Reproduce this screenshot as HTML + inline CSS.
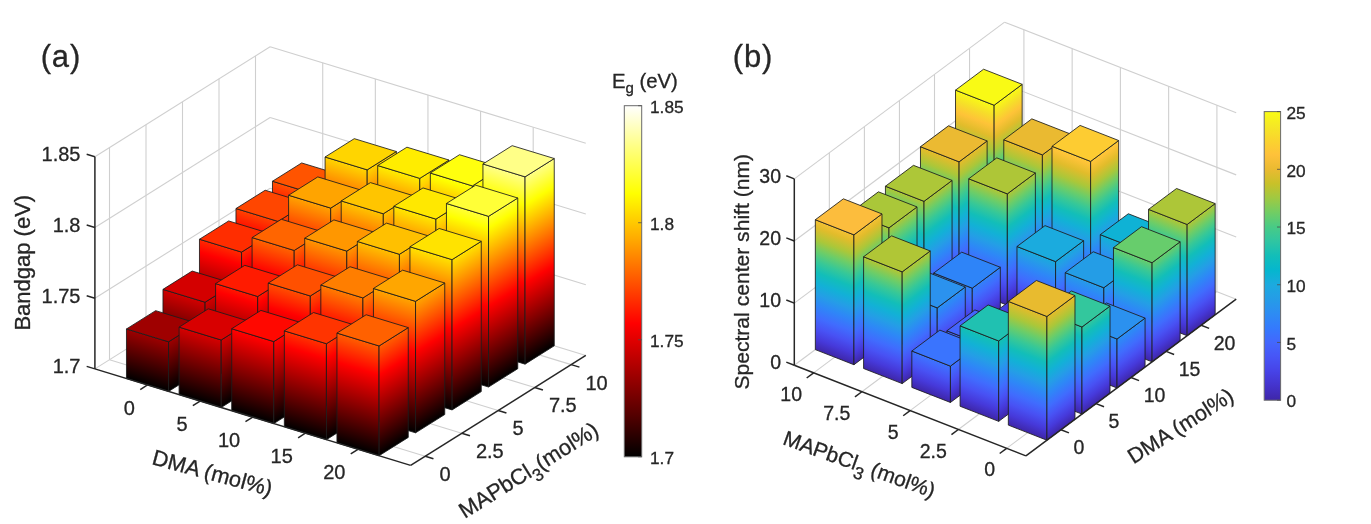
<!DOCTYPE html>
<html><head><meta charset="utf-8"><title>Figure</title>
<style>
html,body{margin:0;padding:0;background:#fff;}
svg{display:block;}
text{font-family:"Liberation Sans",Arial,sans-serif;fill:#262626;stroke:#262626;stroke-width:0.3;}
.g{stroke:#cfcfcf;stroke-width:1.1;fill:none;}
.a{stroke:#262626;stroke-width:1.5;fill:none;stroke-linecap:butt;}
.b{stroke:#1c1c1c;stroke-width:0.85;stroke-linejoin:round;}
.ct{stroke:#4d4d4d;stroke-width:0.8;}
</style></head><body>
<svg width="1371" height="524" viewBox="0 0 1371 524">
<rect width="1371" height="524" fill="#fff"/>
<defs>
<linearGradient id="af15" gradientUnits="userSpaceOnUse" x1="272.47" y1="286.95" x2="331.78" y2="92.87"><stop offset="0" stop-color="#000000"/><stop offset="0.38" stop-color="#ff0000"/><stop offset="0.75" stop-color="#ffff00"/><stop offset="1" stop-color="#ffffff"/></linearGradient>
<linearGradient id="ar15" gradientUnits="userSpaceOnUse" x1="314.57" y1="299.81" x2="219.04" y2="147.55"><stop offset="0" stop-color="#000000"/><stop offset="0.38" stop-color="#ff0000"/><stop offset="0.75" stop-color="#ffff00"/><stop offset="1" stop-color="#ffffff"/></linearGradient>
<linearGradient id="af25" gradientUnits="userSpaceOnUse" x1="325.09" y1="303.03" x2="384.4" y2="108.95"><stop offset="0" stop-color="#000000"/><stop offset="0.38" stop-color="#ff0000"/><stop offset="0.75" stop-color="#ffff00"/><stop offset="1" stop-color="#ffffff"/></linearGradient>
<linearGradient id="ar25" gradientUnits="userSpaceOnUse" x1="367.19" y1="315.89" x2="271.66" y2="163.63"><stop offset="0" stop-color="#000000"/><stop offset="0.38" stop-color="#ff0000"/><stop offset="0.75" stop-color="#ffff00"/><stop offset="1" stop-color="#ffffff"/></linearGradient>
<linearGradient id="af35" gradientUnits="userSpaceOnUse" x1="377.71" y1="319.11" x2="437.02" y2="125.03"><stop offset="0" stop-color="#000000"/><stop offset="0.38" stop-color="#ff0000"/><stop offset="0.75" stop-color="#ffff00"/><stop offset="1" stop-color="#ffffff"/></linearGradient>
<linearGradient id="ar35" gradientUnits="userSpaceOnUse" x1="419.81" y1="331.97" x2="324.28" y2="179.71"><stop offset="0" stop-color="#000000"/><stop offset="0.38" stop-color="#ff0000"/><stop offset="0.75" stop-color="#ffff00"/><stop offset="1" stop-color="#ffffff"/></linearGradient>
<linearGradient id="af45" gradientUnits="userSpaceOnUse" x1="430.33" y1="335.19" x2="489.64" y2="141.11"><stop offset="0" stop-color="#000000"/><stop offset="0.38" stop-color="#ff0000"/><stop offset="0.75" stop-color="#ffff00"/><stop offset="1" stop-color="#ffffff"/></linearGradient>
<linearGradient id="ar45" gradientUnits="userSpaceOnUse" x1="472.43" y1="348.05" x2="376.9" y2="195.79"><stop offset="0" stop-color="#000000"/><stop offset="0.38" stop-color="#ff0000"/><stop offset="0.75" stop-color="#ffff00"/><stop offset="1" stop-color="#ffffff"/></linearGradient>
<linearGradient id="af55" gradientUnits="userSpaceOnUse" x1="482.95" y1="351.27" x2="542.26" y2="157.19"><stop offset="0" stop-color="#000000"/><stop offset="0.38" stop-color="#ff0000"/><stop offset="0.75" stop-color="#ffff00"/><stop offset="1" stop-color="#ffffff"/></linearGradient>
<linearGradient id="ar55" gradientUnits="userSpaceOnUse" x1="525.05" y1="364.13" x2="429.52" y2="211.87"><stop offset="0" stop-color="#000000"/><stop offset="0.38" stop-color="#ff0000"/><stop offset="0.75" stop-color="#ffff00"/><stop offset="1" stop-color="#ffffff"/></linearGradient>
<linearGradient id="af14" gradientUnits="userSpaceOnUse" x1="235.97" y1="309.85" x2="295.28" y2="115.77"><stop offset="0" stop-color="#000000"/><stop offset="0.38" stop-color="#ff0000"/><stop offset="0.75" stop-color="#ffff00"/><stop offset="1" stop-color="#ffffff"/></linearGradient>
<linearGradient id="ar14" gradientUnits="userSpaceOnUse" x1="278.07" y1="322.71" x2="182.54" y2="170.45"><stop offset="0" stop-color="#000000"/><stop offset="0.38" stop-color="#ff0000"/><stop offset="0.75" stop-color="#ffff00"/><stop offset="1" stop-color="#ffffff"/></linearGradient>
<linearGradient id="af24" gradientUnits="userSpaceOnUse" x1="288.59" y1="325.93" x2="347.9" y2="131.85"><stop offset="0" stop-color="#000000"/><stop offset="0.38" stop-color="#ff0000"/><stop offset="0.75" stop-color="#ffff00"/><stop offset="1" stop-color="#ffffff"/></linearGradient>
<linearGradient id="ar24" gradientUnits="userSpaceOnUse" x1="330.69" y1="338.79" x2="235.16" y2="186.53"><stop offset="0" stop-color="#000000"/><stop offset="0.38" stop-color="#ff0000"/><stop offset="0.75" stop-color="#ffff00"/><stop offset="1" stop-color="#ffffff"/></linearGradient>
<linearGradient id="af34" gradientUnits="userSpaceOnUse" x1="341.21" y1="342.01" x2="400.52" y2="147.93"><stop offset="0" stop-color="#000000"/><stop offset="0.38" stop-color="#ff0000"/><stop offset="0.75" stop-color="#ffff00"/><stop offset="1" stop-color="#ffffff"/></linearGradient>
<linearGradient id="ar34" gradientUnits="userSpaceOnUse" x1="383.31" y1="354.87" x2="287.78" y2="202.61"><stop offset="0" stop-color="#000000"/><stop offset="0.38" stop-color="#ff0000"/><stop offset="0.75" stop-color="#ffff00"/><stop offset="1" stop-color="#ffffff"/></linearGradient>
<linearGradient id="af44" gradientUnits="userSpaceOnUse" x1="393.83" y1="358.09" x2="453.14" y2="164.01"><stop offset="0" stop-color="#000000"/><stop offset="0.38" stop-color="#ff0000"/><stop offset="0.75" stop-color="#ffff00"/><stop offset="1" stop-color="#ffffff"/></linearGradient>
<linearGradient id="ar44" gradientUnits="userSpaceOnUse" x1="435.93" y1="370.95" x2="340.4" y2="218.69"><stop offset="0" stop-color="#000000"/><stop offset="0.38" stop-color="#ff0000"/><stop offset="0.75" stop-color="#ffff00"/><stop offset="1" stop-color="#ffffff"/></linearGradient>
<linearGradient id="af54" gradientUnits="userSpaceOnUse" x1="446.45" y1="374.17" x2="505.76" y2="180.09"><stop offset="0" stop-color="#000000"/><stop offset="0.38" stop-color="#ff0000"/><stop offset="0.75" stop-color="#ffff00"/><stop offset="1" stop-color="#ffffff"/></linearGradient>
<linearGradient id="ar54" gradientUnits="userSpaceOnUse" x1="488.55" y1="387.03" x2="393.02" y2="234.77"><stop offset="0" stop-color="#000000"/><stop offset="0.38" stop-color="#ff0000"/><stop offset="0.75" stop-color="#ffff00"/><stop offset="1" stop-color="#ffffff"/></linearGradient>
<linearGradient id="af13" gradientUnits="userSpaceOnUse" x1="199.47" y1="332.75" x2="258.78" y2="138.67"><stop offset="0" stop-color="#000000"/><stop offset="0.38" stop-color="#ff0000"/><stop offset="0.75" stop-color="#ffff00"/><stop offset="1" stop-color="#ffffff"/></linearGradient>
<linearGradient id="ar13" gradientUnits="userSpaceOnUse" x1="241.57" y1="345.61" x2="146.04" y2="193.35"><stop offset="0" stop-color="#000000"/><stop offset="0.38" stop-color="#ff0000"/><stop offset="0.75" stop-color="#ffff00"/><stop offset="1" stop-color="#ffffff"/></linearGradient>
<linearGradient id="af23" gradientUnits="userSpaceOnUse" x1="252.09" y1="348.83" x2="311.4" y2="154.75"><stop offset="0" stop-color="#000000"/><stop offset="0.38" stop-color="#ff0000"/><stop offset="0.75" stop-color="#ffff00"/><stop offset="1" stop-color="#ffffff"/></linearGradient>
<linearGradient id="ar23" gradientUnits="userSpaceOnUse" x1="294.19" y1="361.69" x2="198.66" y2="209.43"><stop offset="0" stop-color="#000000"/><stop offset="0.38" stop-color="#ff0000"/><stop offset="0.75" stop-color="#ffff00"/><stop offset="1" stop-color="#ffffff"/></linearGradient>
<linearGradient id="af33" gradientUnits="userSpaceOnUse" x1="304.71" y1="364.91" x2="364.02" y2="170.83"><stop offset="0" stop-color="#000000"/><stop offset="0.38" stop-color="#ff0000"/><stop offset="0.75" stop-color="#ffff00"/><stop offset="1" stop-color="#ffffff"/></linearGradient>
<linearGradient id="ar33" gradientUnits="userSpaceOnUse" x1="346.81" y1="377.77" x2="251.28" y2="225.51"><stop offset="0" stop-color="#000000"/><stop offset="0.38" stop-color="#ff0000"/><stop offset="0.75" stop-color="#ffff00"/><stop offset="1" stop-color="#ffffff"/></linearGradient>
<linearGradient id="af43" gradientUnits="userSpaceOnUse" x1="357.33" y1="380.99" x2="416.64" y2="186.91"><stop offset="0" stop-color="#000000"/><stop offset="0.38" stop-color="#ff0000"/><stop offset="0.75" stop-color="#ffff00"/><stop offset="1" stop-color="#ffffff"/></linearGradient>
<linearGradient id="ar43" gradientUnits="userSpaceOnUse" x1="399.43" y1="393.85" x2="303.9" y2="241.59"><stop offset="0" stop-color="#000000"/><stop offset="0.38" stop-color="#ff0000"/><stop offset="0.75" stop-color="#ffff00"/><stop offset="1" stop-color="#ffffff"/></linearGradient>
<linearGradient id="af53" gradientUnits="userSpaceOnUse" x1="409.95" y1="397.07" x2="469.26" y2="202.99"><stop offset="0" stop-color="#000000"/><stop offset="0.38" stop-color="#ff0000"/><stop offset="0.75" stop-color="#ffff00"/><stop offset="1" stop-color="#ffffff"/></linearGradient>
<linearGradient id="ar53" gradientUnits="userSpaceOnUse" x1="452.05" y1="409.93" x2="356.52" y2="257.67"><stop offset="0" stop-color="#000000"/><stop offset="0.38" stop-color="#ff0000"/><stop offset="0.75" stop-color="#ffff00"/><stop offset="1" stop-color="#ffffff"/></linearGradient>
<linearGradient id="af12" gradientUnits="userSpaceOnUse" x1="162.97" y1="355.65" x2="222.28" y2="161.57"><stop offset="0" stop-color="#000000"/><stop offset="0.38" stop-color="#ff0000"/><stop offset="0.75" stop-color="#ffff00"/><stop offset="1" stop-color="#ffffff"/></linearGradient>
<linearGradient id="ar12" gradientUnits="userSpaceOnUse" x1="205.07" y1="368.51" x2="109.54" y2="216.25"><stop offset="0" stop-color="#000000"/><stop offset="0.38" stop-color="#ff0000"/><stop offset="0.75" stop-color="#ffff00"/><stop offset="1" stop-color="#ffffff"/></linearGradient>
<linearGradient id="af22" gradientUnits="userSpaceOnUse" x1="215.59" y1="371.73" x2="274.9" y2="177.65"><stop offset="0" stop-color="#000000"/><stop offset="0.38" stop-color="#ff0000"/><stop offset="0.75" stop-color="#ffff00"/><stop offset="1" stop-color="#ffffff"/></linearGradient>
<linearGradient id="ar22" gradientUnits="userSpaceOnUse" x1="257.69" y1="384.59" x2="162.16" y2="232.33"><stop offset="0" stop-color="#000000"/><stop offset="0.38" stop-color="#ff0000"/><stop offset="0.75" stop-color="#ffff00"/><stop offset="1" stop-color="#ffffff"/></linearGradient>
<linearGradient id="af32" gradientUnits="userSpaceOnUse" x1="268.21" y1="387.81" x2="327.52" y2="193.73"><stop offset="0" stop-color="#000000"/><stop offset="0.38" stop-color="#ff0000"/><stop offset="0.75" stop-color="#ffff00"/><stop offset="1" stop-color="#ffffff"/></linearGradient>
<linearGradient id="ar32" gradientUnits="userSpaceOnUse" x1="310.31" y1="400.67" x2="214.78" y2="248.41"><stop offset="0" stop-color="#000000"/><stop offset="0.38" stop-color="#ff0000"/><stop offset="0.75" stop-color="#ffff00"/><stop offset="1" stop-color="#ffffff"/></linearGradient>
<linearGradient id="af42" gradientUnits="userSpaceOnUse" x1="320.83" y1="403.89" x2="380.14" y2="209.81"><stop offset="0" stop-color="#000000"/><stop offset="0.38" stop-color="#ff0000"/><stop offset="0.75" stop-color="#ffff00"/><stop offset="1" stop-color="#ffffff"/></linearGradient>
<linearGradient id="ar42" gradientUnits="userSpaceOnUse" x1="362.93" y1="416.75" x2="267.4" y2="264.49"><stop offset="0" stop-color="#000000"/><stop offset="0.38" stop-color="#ff0000"/><stop offset="0.75" stop-color="#ffff00"/><stop offset="1" stop-color="#ffffff"/></linearGradient>
<linearGradient id="af52" gradientUnits="userSpaceOnUse" x1="373.45" y1="419.97" x2="432.76" y2="225.89"><stop offset="0" stop-color="#000000"/><stop offset="0.38" stop-color="#ff0000"/><stop offset="0.75" stop-color="#ffff00"/><stop offset="1" stop-color="#ffffff"/></linearGradient>
<linearGradient id="ar52" gradientUnits="userSpaceOnUse" x1="415.55" y1="432.83" x2="320.02" y2="280.57"><stop offset="0" stop-color="#000000"/><stop offset="0.38" stop-color="#ff0000"/><stop offset="0.75" stop-color="#ffff00"/><stop offset="1" stop-color="#ffffff"/></linearGradient>
<linearGradient id="af11" gradientUnits="userSpaceOnUse" x1="126.47" y1="378.55" x2="185.78" y2="184.47"><stop offset="0" stop-color="#000000"/><stop offset="0.38" stop-color="#ff0000"/><stop offset="0.75" stop-color="#ffff00"/><stop offset="1" stop-color="#ffffff"/></linearGradient>
<linearGradient id="ar11" gradientUnits="userSpaceOnUse" x1="168.57" y1="391.41" x2="73.04" y2="239.15"><stop offset="0" stop-color="#000000"/><stop offset="0.38" stop-color="#ff0000"/><stop offset="0.75" stop-color="#ffff00"/><stop offset="1" stop-color="#ffffff"/></linearGradient>
<linearGradient id="af21" gradientUnits="userSpaceOnUse" x1="179.09" y1="394.63" x2="238.4" y2="200.55"><stop offset="0" stop-color="#000000"/><stop offset="0.38" stop-color="#ff0000"/><stop offset="0.75" stop-color="#ffff00"/><stop offset="1" stop-color="#ffffff"/></linearGradient>
<linearGradient id="ar21" gradientUnits="userSpaceOnUse" x1="221.19" y1="407.49" x2="125.66" y2="255.23"><stop offset="0" stop-color="#000000"/><stop offset="0.38" stop-color="#ff0000"/><stop offset="0.75" stop-color="#ffff00"/><stop offset="1" stop-color="#ffffff"/></linearGradient>
<linearGradient id="af31" gradientUnits="userSpaceOnUse" x1="231.71" y1="410.71" x2="291.02" y2="216.63"><stop offset="0" stop-color="#000000"/><stop offset="0.38" stop-color="#ff0000"/><stop offset="0.75" stop-color="#ffff00"/><stop offset="1" stop-color="#ffffff"/></linearGradient>
<linearGradient id="ar31" gradientUnits="userSpaceOnUse" x1="273.81" y1="423.57" x2="178.28" y2="271.31"><stop offset="0" stop-color="#000000"/><stop offset="0.38" stop-color="#ff0000"/><stop offset="0.75" stop-color="#ffff00"/><stop offset="1" stop-color="#ffffff"/></linearGradient>
<linearGradient id="af41" gradientUnits="userSpaceOnUse" x1="284.33" y1="426.79" x2="343.64" y2="232.71"><stop offset="0" stop-color="#000000"/><stop offset="0.38" stop-color="#ff0000"/><stop offset="0.75" stop-color="#ffff00"/><stop offset="1" stop-color="#ffffff"/></linearGradient>
<linearGradient id="ar41" gradientUnits="userSpaceOnUse" x1="326.43" y1="439.65" x2="230.9" y2="287.39"><stop offset="0" stop-color="#000000"/><stop offset="0.38" stop-color="#ff0000"/><stop offset="0.75" stop-color="#ffff00"/><stop offset="1" stop-color="#ffffff"/></linearGradient>
<linearGradient id="af51" gradientUnits="userSpaceOnUse" x1="336.95" y1="442.87" x2="396.26" y2="248.79"><stop offset="0" stop-color="#000000"/><stop offset="0.38" stop-color="#ff0000"/><stop offset="0.75" stop-color="#ffff00"/><stop offset="1" stop-color="#ffffff"/></linearGradient>
<linearGradient id="ar51" gradientUnits="userSpaceOnUse" x1="379.05" y1="455.73" x2="283.52" y2="303.47"><stop offset="0" stop-color="#000000"/><stop offset="0.38" stop-color="#ff0000"/><stop offset="0.75" stop-color="#ffff00"/><stop offset="1" stop-color="#ffffff"/></linearGradient>
<linearGradient id="bf15" gradientUnits="userSpaceOnUse" x1="955.53" y1="245.12" x2="1008.22" y2="110.44"><stop offset="0" stop-color="#3e26a8"/><stop offset="0.07" stop-color="#4639da"/><stop offset="0.14" stop-color="#4852f4"/><stop offset="0.21" stop-color="#406cfe"/><stop offset="0.29" stop-color="#2e87f7"/><stop offset="0.36" stop-color="#249ee6"/><stop offset="0.43" stop-color="#12b1d6"/><stop offset="0.5" stop-color="#12beb9"/><stop offset="0.57" stop-color="#37c897"/><stop offset="0.64" stop-color="#6bcd69"/><stop offset="0.71" stop-color="#abc739"/><stop offset="0.79" stop-color="#e1bc2b"/><stop offset="0.86" stop-color="#fec338"/><stop offset="0.93" stop-color="#f6df29"/><stop offset="1" stop-color="#f9fb15"/></linearGradient>
<linearGradient id="br15" gradientUnits="userSpaceOnUse" x1="994.13" y1="260.23" x2="919.72" y2="160.39"><stop offset="0" stop-color="#3e26a8"/><stop offset="0.07" stop-color="#4639da"/><stop offset="0.14" stop-color="#4852f4"/><stop offset="0.21" stop-color="#406cfe"/><stop offset="0.29" stop-color="#2e87f7"/><stop offset="0.36" stop-color="#249ee6"/><stop offset="0.43" stop-color="#12b1d6"/><stop offset="0.5" stop-color="#12beb9"/><stop offset="0.57" stop-color="#37c897"/><stop offset="0.64" stop-color="#6bcd69"/><stop offset="0.71" stop-color="#abc739"/><stop offset="0.79" stop-color="#e1bc2b"/><stop offset="0.86" stop-color="#fec338"/><stop offset="0.93" stop-color="#f6df29"/><stop offset="1" stop-color="#f9fb15"/></linearGradient>
<linearGradient id="bf25" gradientUnits="userSpaceOnUse" x1="1003.78" y1="264" x2="1056.47" y2="129.31"><stop offset="0" stop-color="#3e26a8"/><stop offset="0.07" stop-color="#4639da"/><stop offset="0.14" stop-color="#4852f4"/><stop offset="0.21" stop-color="#406cfe"/><stop offset="0.29" stop-color="#2e87f7"/><stop offset="0.36" stop-color="#249ee6"/><stop offset="0.43" stop-color="#12b1d6"/><stop offset="0.5" stop-color="#12beb9"/><stop offset="0.57" stop-color="#37c897"/><stop offset="0.64" stop-color="#6bcd69"/><stop offset="0.71" stop-color="#abc739"/><stop offset="0.79" stop-color="#e1bc2b"/><stop offset="0.86" stop-color="#fec338"/><stop offset="0.93" stop-color="#f6df29"/><stop offset="1" stop-color="#f9fb15"/></linearGradient>
<linearGradient id="br25" gradientUnits="userSpaceOnUse" x1="1042.38" y1="279.1" x2="967.97" y2="179.27"><stop offset="0" stop-color="#3e26a8"/><stop offset="0.07" stop-color="#4639da"/><stop offset="0.14" stop-color="#4852f4"/><stop offset="0.21" stop-color="#406cfe"/><stop offset="0.29" stop-color="#2e87f7"/><stop offset="0.36" stop-color="#249ee6"/><stop offset="0.43" stop-color="#12b1d6"/><stop offset="0.5" stop-color="#12beb9"/><stop offset="0.57" stop-color="#37c897"/><stop offset="0.64" stop-color="#6bcd69"/><stop offset="0.71" stop-color="#abc739"/><stop offset="0.79" stop-color="#e1bc2b"/><stop offset="0.86" stop-color="#fec338"/><stop offset="0.93" stop-color="#f6df29"/><stop offset="1" stop-color="#f9fb15"/></linearGradient>
<linearGradient id="bf35" gradientUnits="userSpaceOnUse" x1="1052.03" y1="282.88" x2="1104.72" y2="148.19"><stop offset="0" stop-color="#3e26a8"/><stop offset="0.07" stop-color="#4639da"/><stop offset="0.14" stop-color="#4852f4"/><stop offset="0.21" stop-color="#406cfe"/><stop offset="0.29" stop-color="#2e87f7"/><stop offset="0.36" stop-color="#249ee6"/><stop offset="0.43" stop-color="#12b1d6"/><stop offset="0.5" stop-color="#12beb9"/><stop offset="0.57" stop-color="#37c897"/><stop offset="0.64" stop-color="#6bcd69"/><stop offset="0.71" stop-color="#abc739"/><stop offset="0.79" stop-color="#e1bc2b"/><stop offset="0.86" stop-color="#fec338"/><stop offset="0.93" stop-color="#f6df29"/><stop offset="1" stop-color="#f9fb15"/></linearGradient>
<linearGradient id="br35" gradientUnits="userSpaceOnUse" x1="1090.63" y1="297.97" x2="1016.22" y2="198.14"><stop offset="0" stop-color="#3e26a8"/><stop offset="0.07" stop-color="#4639da"/><stop offset="0.14" stop-color="#4852f4"/><stop offset="0.21" stop-color="#406cfe"/><stop offset="0.29" stop-color="#2e87f7"/><stop offset="0.36" stop-color="#249ee6"/><stop offset="0.43" stop-color="#12b1d6"/><stop offset="0.5" stop-color="#12beb9"/><stop offset="0.57" stop-color="#37c897"/><stop offset="0.64" stop-color="#6bcd69"/><stop offset="0.71" stop-color="#abc739"/><stop offset="0.79" stop-color="#e1bc2b"/><stop offset="0.86" stop-color="#fec338"/><stop offset="0.93" stop-color="#f6df29"/><stop offset="1" stop-color="#f9fb15"/></linearGradient>
<linearGradient id="bf45" gradientUnits="userSpaceOnUse" x1="1100.28" y1="301.75" x2="1152.97" y2="167.06"><stop offset="0" stop-color="#3e26a8"/><stop offset="0.07" stop-color="#4639da"/><stop offset="0.14" stop-color="#4852f4"/><stop offset="0.21" stop-color="#406cfe"/><stop offset="0.29" stop-color="#2e87f7"/><stop offset="0.36" stop-color="#249ee6"/><stop offset="0.43" stop-color="#12b1d6"/><stop offset="0.5" stop-color="#12beb9"/><stop offset="0.57" stop-color="#37c897"/><stop offset="0.64" stop-color="#6bcd69"/><stop offset="0.71" stop-color="#abc739"/><stop offset="0.79" stop-color="#e1bc2b"/><stop offset="0.86" stop-color="#fec338"/><stop offset="0.93" stop-color="#f6df29"/><stop offset="1" stop-color="#f9fb15"/></linearGradient>
<linearGradient id="br45" gradientUnits="userSpaceOnUse" x1="1138.88" y1="316.85" x2="1064.47" y2="217.02"><stop offset="0" stop-color="#3e26a8"/><stop offset="0.07" stop-color="#4639da"/><stop offset="0.14" stop-color="#4852f4"/><stop offset="0.21" stop-color="#406cfe"/><stop offset="0.29" stop-color="#2e87f7"/><stop offset="0.36" stop-color="#249ee6"/><stop offset="0.43" stop-color="#12b1d6"/><stop offset="0.5" stop-color="#12beb9"/><stop offset="0.57" stop-color="#37c897"/><stop offset="0.64" stop-color="#6bcd69"/><stop offset="0.71" stop-color="#abc739"/><stop offset="0.79" stop-color="#e1bc2b"/><stop offset="0.86" stop-color="#fec338"/><stop offset="0.93" stop-color="#f6df29"/><stop offset="1" stop-color="#f9fb15"/></linearGradient>
<linearGradient id="bf55" gradientUnits="userSpaceOnUse" x1="1148.53" y1="320.62" x2="1201.22" y2="185.94"><stop offset="0" stop-color="#3e26a8"/><stop offset="0.07" stop-color="#4639da"/><stop offset="0.14" stop-color="#4852f4"/><stop offset="0.21" stop-color="#406cfe"/><stop offset="0.29" stop-color="#2e87f7"/><stop offset="0.36" stop-color="#249ee6"/><stop offset="0.43" stop-color="#12b1d6"/><stop offset="0.5" stop-color="#12beb9"/><stop offset="0.57" stop-color="#37c897"/><stop offset="0.64" stop-color="#6bcd69"/><stop offset="0.71" stop-color="#abc739"/><stop offset="0.79" stop-color="#e1bc2b"/><stop offset="0.86" stop-color="#fec338"/><stop offset="0.93" stop-color="#f6df29"/><stop offset="1" stop-color="#f9fb15"/></linearGradient>
<linearGradient id="br55" gradientUnits="userSpaceOnUse" x1="1187.13" y1="335.73" x2="1112.72" y2="235.89"><stop offset="0" stop-color="#3e26a8"/><stop offset="0.07" stop-color="#4639da"/><stop offset="0.14" stop-color="#4852f4"/><stop offset="0.21" stop-color="#406cfe"/><stop offset="0.29" stop-color="#2e87f7"/><stop offset="0.36" stop-color="#249ee6"/><stop offset="0.43" stop-color="#12b1d6"/><stop offset="0.5" stop-color="#12beb9"/><stop offset="0.57" stop-color="#37c897"/><stop offset="0.64" stop-color="#6bcd69"/><stop offset="0.71" stop-color="#abc739"/><stop offset="0.79" stop-color="#e1bc2b"/><stop offset="0.86" stop-color="#fec338"/><stop offset="0.93" stop-color="#f6df29"/><stop offset="1" stop-color="#f9fb15"/></linearGradient>
<linearGradient id="bf14" gradientUnits="userSpaceOnUse" x1="920.48" y1="271.25" x2="973.17" y2="136.56"><stop offset="0" stop-color="#3e26a8"/><stop offset="0.07" stop-color="#4639da"/><stop offset="0.14" stop-color="#4852f4"/><stop offset="0.21" stop-color="#406cfe"/><stop offset="0.29" stop-color="#2e87f7"/><stop offset="0.36" stop-color="#249ee6"/><stop offset="0.43" stop-color="#12b1d6"/><stop offset="0.5" stop-color="#12beb9"/><stop offset="0.57" stop-color="#37c897"/><stop offset="0.64" stop-color="#6bcd69"/><stop offset="0.71" stop-color="#abc739"/><stop offset="0.79" stop-color="#e1bc2b"/><stop offset="0.86" stop-color="#fec338"/><stop offset="0.93" stop-color="#f6df29"/><stop offset="1" stop-color="#f9fb15"/></linearGradient>
<linearGradient id="br14" gradientUnits="userSpaceOnUse" x1="959.08" y1="286.35" x2="884.67" y2="186.52"><stop offset="0" stop-color="#3e26a8"/><stop offset="0.07" stop-color="#4639da"/><stop offset="0.14" stop-color="#4852f4"/><stop offset="0.21" stop-color="#406cfe"/><stop offset="0.29" stop-color="#2e87f7"/><stop offset="0.36" stop-color="#249ee6"/><stop offset="0.43" stop-color="#12b1d6"/><stop offset="0.5" stop-color="#12beb9"/><stop offset="0.57" stop-color="#37c897"/><stop offset="0.64" stop-color="#6bcd69"/><stop offset="0.71" stop-color="#abc739"/><stop offset="0.79" stop-color="#e1bc2b"/><stop offset="0.86" stop-color="#fec338"/><stop offset="0.93" stop-color="#f6df29"/><stop offset="1" stop-color="#f9fb15"/></linearGradient>
<linearGradient id="bf24" gradientUnits="userSpaceOnUse" x1="968.73" y1="290.12" x2="1021.42" y2="155.44"><stop offset="0" stop-color="#3e26a8"/><stop offset="0.07" stop-color="#4639da"/><stop offset="0.14" stop-color="#4852f4"/><stop offset="0.21" stop-color="#406cfe"/><stop offset="0.29" stop-color="#2e87f7"/><stop offset="0.36" stop-color="#249ee6"/><stop offset="0.43" stop-color="#12b1d6"/><stop offset="0.5" stop-color="#12beb9"/><stop offset="0.57" stop-color="#37c897"/><stop offset="0.64" stop-color="#6bcd69"/><stop offset="0.71" stop-color="#abc739"/><stop offset="0.79" stop-color="#e1bc2b"/><stop offset="0.86" stop-color="#fec338"/><stop offset="0.93" stop-color="#f6df29"/><stop offset="1" stop-color="#f9fb15"/></linearGradient>
<linearGradient id="br24" gradientUnits="userSpaceOnUse" x1="1007.33" y1="305.22" x2="932.92" y2="205.39"><stop offset="0" stop-color="#3e26a8"/><stop offset="0.07" stop-color="#4639da"/><stop offset="0.14" stop-color="#4852f4"/><stop offset="0.21" stop-color="#406cfe"/><stop offset="0.29" stop-color="#2e87f7"/><stop offset="0.36" stop-color="#249ee6"/><stop offset="0.43" stop-color="#12b1d6"/><stop offset="0.5" stop-color="#12beb9"/><stop offset="0.57" stop-color="#37c897"/><stop offset="0.64" stop-color="#6bcd69"/><stop offset="0.71" stop-color="#abc739"/><stop offset="0.79" stop-color="#e1bc2b"/><stop offset="0.86" stop-color="#fec338"/><stop offset="0.93" stop-color="#f6df29"/><stop offset="1" stop-color="#f9fb15"/></linearGradient>
<linearGradient id="bf34" gradientUnits="userSpaceOnUse" x1="1016.98" y1="309" x2="1069.67" y2="174.31"><stop offset="0" stop-color="#3e26a8"/><stop offset="0.07" stop-color="#4639da"/><stop offset="0.14" stop-color="#4852f4"/><stop offset="0.21" stop-color="#406cfe"/><stop offset="0.29" stop-color="#2e87f7"/><stop offset="0.36" stop-color="#249ee6"/><stop offset="0.43" stop-color="#12b1d6"/><stop offset="0.5" stop-color="#12beb9"/><stop offset="0.57" stop-color="#37c897"/><stop offset="0.64" stop-color="#6bcd69"/><stop offset="0.71" stop-color="#abc739"/><stop offset="0.79" stop-color="#e1bc2b"/><stop offset="0.86" stop-color="#fec338"/><stop offset="0.93" stop-color="#f6df29"/><stop offset="1" stop-color="#f9fb15"/></linearGradient>
<linearGradient id="br34" gradientUnits="userSpaceOnUse" x1="1055.58" y1="324.1" x2="981.17" y2="224.27"><stop offset="0" stop-color="#3e26a8"/><stop offset="0.07" stop-color="#4639da"/><stop offset="0.14" stop-color="#4852f4"/><stop offset="0.21" stop-color="#406cfe"/><stop offset="0.29" stop-color="#2e87f7"/><stop offset="0.36" stop-color="#249ee6"/><stop offset="0.43" stop-color="#12b1d6"/><stop offset="0.5" stop-color="#12beb9"/><stop offset="0.57" stop-color="#37c897"/><stop offset="0.64" stop-color="#6bcd69"/><stop offset="0.71" stop-color="#abc739"/><stop offset="0.79" stop-color="#e1bc2b"/><stop offset="0.86" stop-color="#fec338"/><stop offset="0.93" stop-color="#f6df29"/><stop offset="1" stop-color="#f9fb15"/></linearGradient>
<linearGradient id="bf44" gradientUnits="userSpaceOnUse" x1="1065.23" y1="327.88" x2="1117.92" y2="193.19"><stop offset="0" stop-color="#3e26a8"/><stop offset="0.07" stop-color="#4639da"/><stop offset="0.14" stop-color="#4852f4"/><stop offset="0.21" stop-color="#406cfe"/><stop offset="0.29" stop-color="#2e87f7"/><stop offset="0.36" stop-color="#249ee6"/><stop offset="0.43" stop-color="#12b1d6"/><stop offset="0.5" stop-color="#12beb9"/><stop offset="0.57" stop-color="#37c897"/><stop offset="0.64" stop-color="#6bcd69"/><stop offset="0.71" stop-color="#abc739"/><stop offset="0.79" stop-color="#e1bc2b"/><stop offset="0.86" stop-color="#fec338"/><stop offset="0.93" stop-color="#f6df29"/><stop offset="1" stop-color="#f9fb15"/></linearGradient>
<linearGradient id="br44" gradientUnits="userSpaceOnUse" x1="1103.83" y1="342.98" x2="1029.42" y2="243.14"><stop offset="0" stop-color="#3e26a8"/><stop offset="0.07" stop-color="#4639da"/><stop offset="0.14" stop-color="#4852f4"/><stop offset="0.21" stop-color="#406cfe"/><stop offset="0.29" stop-color="#2e87f7"/><stop offset="0.36" stop-color="#249ee6"/><stop offset="0.43" stop-color="#12b1d6"/><stop offset="0.5" stop-color="#12beb9"/><stop offset="0.57" stop-color="#37c897"/><stop offset="0.64" stop-color="#6bcd69"/><stop offset="0.71" stop-color="#abc739"/><stop offset="0.79" stop-color="#e1bc2b"/><stop offset="0.86" stop-color="#fec338"/><stop offset="0.93" stop-color="#f6df29"/><stop offset="1" stop-color="#f9fb15"/></linearGradient>
<linearGradient id="bf54" gradientUnits="userSpaceOnUse" x1="1113.48" y1="346.75" x2="1166.17" y2="212.06"><stop offset="0" stop-color="#3e26a8"/><stop offset="0.07" stop-color="#4639da"/><stop offset="0.14" stop-color="#4852f4"/><stop offset="0.21" stop-color="#406cfe"/><stop offset="0.29" stop-color="#2e87f7"/><stop offset="0.36" stop-color="#249ee6"/><stop offset="0.43" stop-color="#12b1d6"/><stop offset="0.5" stop-color="#12beb9"/><stop offset="0.57" stop-color="#37c897"/><stop offset="0.64" stop-color="#6bcd69"/><stop offset="0.71" stop-color="#abc739"/><stop offset="0.79" stop-color="#e1bc2b"/><stop offset="0.86" stop-color="#fec338"/><stop offset="0.93" stop-color="#f6df29"/><stop offset="1" stop-color="#f9fb15"/></linearGradient>
<linearGradient id="br54" gradientUnits="userSpaceOnUse" x1="1152.08" y1="361.85" x2="1077.67" y2="262.02"><stop offset="0" stop-color="#3e26a8"/><stop offset="0.07" stop-color="#4639da"/><stop offset="0.14" stop-color="#4852f4"/><stop offset="0.21" stop-color="#406cfe"/><stop offset="0.29" stop-color="#2e87f7"/><stop offset="0.36" stop-color="#249ee6"/><stop offset="0.43" stop-color="#12b1d6"/><stop offset="0.5" stop-color="#12beb9"/><stop offset="0.57" stop-color="#37c897"/><stop offset="0.64" stop-color="#6bcd69"/><stop offset="0.71" stop-color="#abc739"/><stop offset="0.79" stop-color="#e1bc2b"/><stop offset="0.86" stop-color="#fec338"/><stop offset="0.93" stop-color="#f6df29"/><stop offset="1" stop-color="#f9fb15"/></linearGradient>
<linearGradient id="bf13" gradientUnits="userSpaceOnUse" x1="885.43" y1="297.38" x2="938.12" y2="162.69"><stop offset="0" stop-color="#3e26a8"/><stop offset="0.07" stop-color="#4639da"/><stop offset="0.14" stop-color="#4852f4"/><stop offset="0.21" stop-color="#406cfe"/><stop offset="0.29" stop-color="#2e87f7"/><stop offset="0.36" stop-color="#249ee6"/><stop offset="0.43" stop-color="#12b1d6"/><stop offset="0.5" stop-color="#12beb9"/><stop offset="0.57" stop-color="#37c897"/><stop offset="0.64" stop-color="#6bcd69"/><stop offset="0.71" stop-color="#abc739"/><stop offset="0.79" stop-color="#e1bc2b"/><stop offset="0.86" stop-color="#fec338"/><stop offset="0.93" stop-color="#f6df29"/><stop offset="1" stop-color="#f9fb15"/></linearGradient>
<linearGradient id="br13" gradientUnits="userSpaceOnUse" x1="924.03" y1="312.48" x2="849.62" y2="212.64"><stop offset="0" stop-color="#3e26a8"/><stop offset="0.07" stop-color="#4639da"/><stop offset="0.14" stop-color="#4852f4"/><stop offset="0.21" stop-color="#406cfe"/><stop offset="0.29" stop-color="#2e87f7"/><stop offset="0.36" stop-color="#249ee6"/><stop offset="0.43" stop-color="#12b1d6"/><stop offset="0.5" stop-color="#12beb9"/><stop offset="0.57" stop-color="#37c897"/><stop offset="0.64" stop-color="#6bcd69"/><stop offset="0.71" stop-color="#abc739"/><stop offset="0.79" stop-color="#e1bc2b"/><stop offset="0.86" stop-color="#fec338"/><stop offset="0.93" stop-color="#f6df29"/><stop offset="1" stop-color="#f9fb15"/></linearGradient>
<linearGradient id="bf23" gradientUnits="userSpaceOnUse" x1="933.68" y1="316.25" x2="986.37" y2="181.56"><stop offset="0" stop-color="#3e26a8"/><stop offset="0.07" stop-color="#4639da"/><stop offset="0.14" stop-color="#4852f4"/><stop offset="0.21" stop-color="#406cfe"/><stop offset="0.29" stop-color="#2e87f7"/><stop offset="0.36" stop-color="#249ee6"/><stop offset="0.43" stop-color="#12b1d6"/><stop offset="0.5" stop-color="#12beb9"/><stop offset="0.57" stop-color="#37c897"/><stop offset="0.64" stop-color="#6bcd69"/><stop offset="0.71" stop-color="#abc739"/><stop offset="0.79" stop-color="#e1bc2b"/><stop offset="0.86" stop-color="#fec338"/><stop offset="0.93" stop-color="#f6df29"/><stop offset="1" stop-color="#f9fb15"/></linearGradient>
<linearGradient id="br23" gradientUnits="userSpaceOnUse" x1="972.28" y1="331.35" x2="897.87" y2="231.52"><stop offset="0" stop-color="#3e26a8"/><stop offset="0.07" stop-color="#4639da"/><stop offset="0.14" stop-color="#4852f4"/><stop offset="0.21" stop-color="#406cfe"/><stop offset="0.29" stop-color="#2e87f7"/><stop offset="0.36" stop-color="#249ee6"/><stop offset="0.43" stop-color="#12b1d6"/><stop offset="0.5" stop-color="#12beb9"/><stop offset="0.57" stop-color="#37c897"/><stop offset="0.64" stop-color="#6bcd69"/><stop offset="0.71" stop-color="#abc739"/><stop offset="0.79" stop-color="#e1bc2b"/><stop offset="0.86" stop-color="#fec338"/><stop offset="0.93" stop-color="#f6df29"/><stop offset="1" stop-color="#f9fb15"/></linearGradient>
<linearGradient id="bf33" gradientUnits="userSpaceOnUse" x1="981.93" y1="335.12" x2="1034.62" y2="200.44"><stop offset="0" stop-color="#3e26a8"/><stop offset="0.07" stop-color="#4639da"/><stop offset="0.14" stop-color="#4852f4"/><stop offset="0.21" stop-color="#406cfe"/><stop offset="0.29" stop-color="#2e87f7"/><stop offset="0.36" stop-color="#249ee6"/><stop offset="0.43" stop-color="#12b1d6"/><stop offset="0.5" stop-color="#12beb9"/><stop offset="0.57" stop-color="#37c897"/><stop offset="0.64" stop-color="#6bcd69"/><stop offset="0.71" stop-color="#abc739"/><stop offset="0.79" stop-color="#e1bc2b"/><stop offset="0.86" stop-color="#fec338"/><stop offset="0.93" stop-color="#f6df29"/><stop offset="1" stop-color="#f9fb15"/></linearGradient>
<linearGradient id="br33" gradientUnits="userSpaceOnUse" x1="1020.53" y1="350.22" x2="946.12" y2="250.39"><stop offset="0" stop-color="#3e26a8"/><stop offset="0.07" stop-color="#4639da"/><stop offset="0.14" stop-color="#4852f4"/><stop offset="0.21" stop-color="#406cfe"/><stop offset="0.29" stop-color="#2e87f7"/><stop offset="0.36" stop-color="#249ee6"/><stop offset="0.43" stop-color="#12b1d6"/><stop offset="0.5" stop-color="#12beb9"/><stop offset="0.57" stop-color="#37c897"/><stop offset="0.64" stop-color="#6bcd69"/><stop offset="0.71" stop-color="#abc739"/><stop offset="0.79" stop-color="#e1bc2b"/><stop offset="0.86" stop-color="#fec338"/><stop offset="0.93" stop-color="#f6df29"/><stop offset="1" stop-color="#f9fb15"/></linearGradient>
<linearGradient id="bf43" gradientUnits="userSpaceOnUse" x1="1030.18" y1="354" x2="1082.87" y2="219.31"><stop offset="0" stop-color="#3e26a8"/><stop offset="0.07" stop-color="#4639da"/><stop offset="0.14" stop-color="#4852f4"/><stop offset="0.21" stop-color="#406cfe"/><stop offset="0.29" stop-color="#2e87f7"/><stop offset="0.36" stop-color="#249ee6"/><stop offset="0.43" stop-color="#12b1d6"/><stop offset="0.5" stop-color="#12beb9"/><stop offset="0.57" stop-color="#37c897"/><stop offset="0.64" stop-color="#6bcd69"/><stop offset="0.71" stop-color="#abc739"/><stop offset="0.79" stop-color="#e1bc2b"/><stop offset="0.86" stop-color="#fec338"/><stop offset="0.93" stop-color="#f6df29"/><stop offset="1" stop-color="#f9fb15"/></linearGradient>
<linearGradient id="br43" gradientUnits="userSpaceOnUse" x1="1068.78" y1="369.1" x2="994.37" y2="269.27"><stop offset="0" stop-color="#3e26a8"/><stop offset="0.07" stop-color="#4639da"/><stop offset="0.14" stop-color="#4852f4"/><stop offset="0.21" stop-color="#406cfe"/><stop offset="0.29" stop-color="#2e87f7"/><stop offset="0.36" stop-color="#249ee6"/><stop offset="0.43" stop-color="#12b1d6"/><stop offset="0.5" stop-color="#12beb9"/><stop offset="0.57" stop-color="#37c897"/><stop offset="0.64" stop-color="#6bcd69"/><stop offset="0.71" stop-color="#abc739"/><stop offset="0.79" stop-color="#e1bc2b"/><stop offset="0.86" stop-color="#fec338"/><stop offset="0.93" stop-color="#f6df29"/><stop offset="1" stop-color="#f9fb15"/></linearGradient>
<linearGradient id="bf53" gradientUnits="userSpaceOnUse" x1="1078.43" y1="372.88" x2="1131.12" y2="238.19"><stop offset="0" stop-color="#3e26a8"/><stop offset="0.07" stop-color="#4639da"/><stop offset="0.14" stop-color="#4852f4"/><stop offset="0.21" stop-color="#406cfe"/><stop offset="0.29" stop-color="#2e87f7"/><stop offset="0.36" stop-color="#249ee6"/><stop offset="0.43" stop-color="#12b1d6"/><stop offset="0.5" stop-color="#12beb9"/><stop offset="0.57" stop-color="#37c897"/><stop offset="0.64" stop-color="#6bcd69"/><stop offset="0.71" stop-color="#abc739"/><stop offset="0.79" stop-color="#e1bc2b"/><stop offset="0.86" stop-color="#fec338"/><stop offset="0.93" stop-color="#f6df29"/><stop offset="1" stop-color="#f9fb15"/></linearGradient>
<linearGradient id="br53" gradientUnits="userSpaceOnUse" x1="1117.03" y1="387.98" x2="1042.62" y2="288.14"><stop offset="0" stop-color="#3e26a8"/><stop offset="0.07" stop-color="#4639da"/><stop offset="0.14" stop-color="#4852f4"/><stop offset="0.21" stop-color="#406cfe"/><stop offset="0.29" stop-color="#2e87f7"/><stop offset="0.36" stop-color="#249ee6"/><stop offset="0.43" stop-color="#12b1d6"/><stop offset="0.5" stop-color="#12beb9"/><stop offset="0.57" stop-color="#37c897"/><stop offset="0.64" stop-color="#6bcd69"/><stop offset="0.71" stop-color="#abc739"/><stop offset="0.79" stop-color="#e1bc2b"/><stop offset="0.86" stop-color="#fec338"/><stop offset="0.93" stop-color="#f6df29"/><stop offset="1" stop-color="#f9fb15"/></linearGradient>
<linearGradient id="bf12" gradientUnits="userSpaceOnUse" x1="850.38" y1="323.5" x2="903.07" y2="188.81"><stop offset="0" stop-color="#3e26a8"/><stop offset="0.07" stop-color="#4639da"/><stop offset="0.14" stop-color="#4852f4"/><stop offset="0.21" stop-color="#406cfe"/><stop offset="0.29" stop-color="#2e87f7"/><stop offset="0.36" stop-color="#249ee6"/><stop offset="0.43" stop-color="#12b1d6"/><stop offset="0.5" stop-color="#12beb9"/><stop offset="0.57" stop-color="#37c897"/><stop offset="0.64" stop-color="#6bcd69"/><stop offset="0.71" stop-color="#abc739"/><stop offset="0.79" stop-color="#e1bc2b"/><stop offset="0.86" stop-color="#fec338"/><stop offset="0.93" stop-color="#f6df29"/><stop offset="1" stop-color="#f9fb15"/></linearGradient>
<linearGradient id="br12" gradientUnits="userSpaceOnUse" x1="888.98" y1="338.6" x2="814.57" y2="238.77"><stop offset="0" stop-color="#3e26a8"/><stop offset="0.07" stop-color="#4639da"/><stop offset="0.14" stop-color="#4852f4"/><stop offset="0.21" stop-color="#406cfe"/><stop offset="0.29" stop-color="#2e87f7"/><stop offset="0.36" stop-color="#249ee6"/><stop offset="0.43" stop-color="#12b1d6"/><stop offset="0.5" stop-color="#12beb9"/><stop offset="0.57" stop-color="#37c897"/><stop offset="0.64" stop-color="#6bcd69"/><stop offset="0.71" stop-color="#abc739"/><stop offset="0.79" stop-color="#e1bc2b"/><stop offset="0.86" stop-color="#fec338"/><stop offset="0.93" stop-color="#f6df29"/><stop offset="1" stop-color="#f9fb15"/></linearGradient>
<linearGradient id="bf22" gradientUnits="userSpaceOnUse" x1="898.63" y1="342.38" x2="951.32" y2="207.69"><stop offset="0" stop-color="#3e26a8"/><stop offset="0.07" stop-color="#4639da"/><stop offset="0.14" stop-color="#4852f4"/><stop offset="0.21" stop-color="#406cfe"/><stop offset="0.29" stop-color="#2e87f7"/><stop offset="0.36" stop-color="#249ee6"/><stop offset="0.43" stop-color="#12b1d6"/><stop offset="0.5" stop-color="#12beb9"/><stop offset="0.57" stop-color="#37c897"/><stop offset="0.64" stop-color="#6bcd69"/><stop offset="0.71" stop-color="#abc739"/><stop offset="0.79" stop-color="#e1bc2b"/><stop offset="0.86" stop-color="#fec338"/><stop offset="0.93" stop-color="#f6df29"/><stop offset="1" stop-color="#f9fb15"/></linearGradient>
<linearGradient id="br22" gradientUnits="userSpaceOnUse" x1="937.23" y1="357.47" x2="862.82" y2="257.64"><stop offset="0" stop-color="#3e26a8"/><stop offset="0.07" stop-color="#4639da"/><stop offset="0.14" stop-color="#4852f4"/><stop offset="0.21" stop-color="#406cfe"/><stop offset="0.29" stop-color="#2e87f7"/><stop offset="0.36" stop-color="#249ee6"/><stop offset="0.43" stop-color="#12b1d6"/><stop offset="0.5" stop-color="#12beb9"/><stop offset="0.57" stop-color="#37c897"/><stop offset="0.64" stop-color="#6bcd69"/><stop offset="0.71" stop-color="#abc739"/><stop offset="0.79" stop-color="#e1bc2b"/><stop offset="0.86" stop-color="#fec338"/><stop offset="0.93" stop-color="#f6df29"/><stop offset="1" stop-color="#f9fb15"/></linearGradient>
<linearGradient id="bf32" gradientUnits="userSpaceOnUse" x1="946.88" y1="361.25" x2="999.57" y2="226.56"><stop offset="0" stop-color="#3e26a8"/><stop offset="0.07" stop-color="#4639da"/><stop offset="0.14" stop-color="#4852f4"/><stop offset="0.21" stop-color="#406cfe"/><stop offset="0.29" stop-color="#2e87f7"/><stop offset="0.36" stop-color="#249ee6"/><stop offset="0.43" stop-color="#12b1d6"/><stop offset="0.5" stop-color="#12beb9"/><stop offset="0.57" stop-color="#37c897"/><stop offset="0.64" stop-color="#6bcd69"/><stop offset="0.71" stop-color="#abc739"/><stop offset="0.79" stop-color="#e1bc2b"/><stop offset="0.86" stop-color="#fec338"/><stop offset="0.93" stop-color="#f6df29"/><stop offset="1" stop-color="#f9fb15"/></linearGradient>
<linearGradient id="br32" gradientUnits="userSpaceOnUse" x1="985.48" y1="376.35" x2="911.07" y2="276.52"><stop offset="0" stop-color="#3e26a8"/><stop offset="0.07" stop-color="#4639da"/><stop offset="0.14" stop-color="#4852f4"/><stop offset="0.21" stop-color="#406cfe"/><stop offset="0.29" stop-color="#2e87f7"/><stop offset="0.36" stop-color="#249ee6"/><stop offset="0.43" stop-color="#12b1d6"/><stop offset="0.5" stop-color="#12beb9"/><stop offset="0.57" stop-color="#37c897"/><stop offset="0.64" stop-color="#6bcd69"/><stop offset="0.71" stop-color="#abc739"/><stop offset="0.79" stop-color="#e1bc2b"/><stop offset="0.86" stop-color="#fec338"/><stop offset="0.93" stop-color="#f6df29"/><stop offset="1" stop-color="#f9fb15"/></linearGradient>
<linearGradient id="bf42" gradientUnits="userSpaceOnUse" x1="995.13" y1="380.12" x2="1047.82" y2="245.44"><stop offset="0" stop-color="#3e26a8"/><stop offset="0.07" stop-color="#4639da"/><stop offset="0.14" stop-color="#4852f4"/><stop offset="0.21" stop-color="#406cfe"/><stop offset="0.29" stop-color="#2e87f7"/><stop offset="0.36" stop-color="#249ee6"/><stop offset="0.43" stop-color="#12b1d6"/><stop offset="0.5" stop-color="#12beb9"/><stop offset="0.57" stop-color="#37c897"/><stop offset="0.64" stop-color="#6bcd69"/><stop offset="0.71" stop-color="#abc739"/><stop offset="0.79" stop-color="#e1bc2b"/><stop offset="0.86" stop-color="#fec338"/><stop offset="0.93" stop-color="#f6df29"/><stop offset="1" stop-color="#f9fb15"/></linearGradient>
<linearGradient id="br42" gradientUnits="userSpaceOnUse" x1="1033.73" y1="395.23" x2="959.32" y2="295.39"><stop offset="0" stop-color="#3e26a8"/><stop offset="0.07" stop-color="#4639da"/><stop offset="0.14" stop-color="#4852f4"/><stop offset="0.21" stop-color="#406cfe"/><stop offset="0.29" stop-color="#2e87f7"/><stop offset="0.36" stop-color="#249ee6"/><stop offset="0.43" stop-color="#12b1d6"/><stop offset="0.5" stop-color="#12beb9"/><stop offset="0.57" stop-color="#37c897"/><stop offset="0.64" stop-color="#6bcd69"/><stop offset="0.71" stop-color="#abc739"/><stop offset="0.79" stop-color="#e1bc2b"/><stop offset="0.86" stop-color="#fec338"/><stop offset="0.93" stop-color="#f6df29"/><stop offset="1" stop-color="#f9fb15"/></linearGradient>
<linearGradient id="bf52" gradientUnits="userSpaceOnUse" x1="1043.38" y1="399" x2="1096.07" y2="264.31"><stop offset="0" stop-color="#3e26a8"/><stop offset="0.07" stop-color="#4639da"/><stop offset="0.14" stop-color="#4852f4"/><stop offset="0.21" stop-color="#406cfe"/><stop offset="0.29" stop-color="#2e87f7"/><stop offset="0.36" stop-color="#249ee6"/><stop offset="0.43" stop-color="#12b1d6"/><stop offset="0.5" stop-color="#12beb9"/><stop offset="0.57" stop-color="#37c897"/><stop offset="0.64" stop-color="#6bcd69"/><stop offset="0.71" stop-color="#abc739"/><stop offset="0.79" stop-color="#e1bc2b"/><stop offset="0.86" stop-color="#fec338"/><stop offset="0.93" stop-color="#f6df29"/><stop offset="1" stop-color="#f9fb15"/></linearGradient>
<linearGradient id="br52" gradientUnits="userSpaceOnUse" x1="1081.98" y1="414.1" x2="1007.57" y2="314.27"><stop offset="0" stop-color="#3e26a8"/><stop offset="0.07" stop-color="#4639da"/><stop offset="0.14" stop-color="#4852f4"/><stop offset="0.21" stop-color="#406cfe"/><stop offset="0.29" stop-color="#2e87f7"/><stop offset="0.36" stop-color="#249ee6"/><stop offset="0.43" stop-color="#12b1d6"/><stop offset="0.5" stop-color="#12beb9"/><stop offset="0.57" stop-color="#37c897"/><stop offset="0.64" stop-color="#6bcd69"/><stop offset="0.71" stop-color="#abc739"/><stop offset="0.79" stop-color="#e1bc2b"/><stop offset="0.86" stop-color="#fec338"/><stop offset="0.93" stop-color="#f6df29"/><stop offset="1" stop-color="#f9fb15"/></linearGradient>
<linearGradient id="bf11" gradientUnits="userSpaceOnUse" x1="815.33" y1="349.62" x2="868.02" y2="214.94"><stop offset="0" stop-color="#3e26a8"/><stop offset="0.07" stop-color="#4639da"/><stop offset="0.14" stop-color="#4852f4"/><stop offset="0.21" stop-color="#406cfe"/><stop offset="0.29" stop-color="#2e87f7"/><stop offset="0.36" stop-color="#249ee6"/><stop offset="0.43" stop-color="#12b1d6"/><stop offset="0.5" stop-color="#12beb9"/><stop offset="0.57" stop-color="#37c897"/><stop offset="0.64" stop-color="#6bcd69"/><stop offset="0.71" stop-color="#abc739"/><stop offset="0.79" stop-color="#e1bc2b"/><stop offset="0.86" stop-color="#fec338"/><stop offset="0.93" stop-color="#f6df29"/><stop offset="1" stop-color="#f9fb15"/></linearGradient>
<linearGradient id="br11" gradientUnits="userSpaceOnUse" x1="853.93" y1="364.73" x2="779.52" y2="264.89"><stop offset="0" stop-color="#3e26a8"/><stop offset="0.07" stop-color="#4639da"/><stop offset="0.14" stop-color="#4852f4"/><stop offset="0.21" stop-color="#406cfe"/><stop offset="0.29" stop-color="#2e87f7"/><stop offset="0.36" stop-color="#249ee6"/><stop offset="0.43" stop-color="#12b1d6"/><stop offset="0.5" stop-color="#12beb9"/><stop offset="0.57" stop-color="#37c897"/><stop offset="0.64" stop-color="#6bcd69"/><stop offset="0.71" stop-color="#abc739"/><stop offset="0.79" stop-color="#e1bc2b"/><stop offset="0.86" stop-color="#fec338"/><stop offset="0.93" stop-color="#f6df29"/><stop offset="1" stop-color="#f9fb15"/></linearGradient>
<linearGradient id="bf21" gradientUnits="userSpaceOnUse" x1="863.58" y1="368.5" x2="916.27" y2="233.81"><stop offset="0" stop-color="#3e26a8"/><stop offset="0.07" stop-color="#4639da"/><stop offset="0.14" stop-color="#4852f4"/><stop offset="0.21" stop-color="#406cfe"/><stop offset="0.29" stop-color="#2e87f7"/><stop offset="0.36" stop-color="#249ee6"/><stop offset="0.43" stop-color="#12b1d6"/><stop offset="0.5" stop-color="#12beb9"/><stop offset="0.57" stop-color="#37c897"/><stop offset="0.64" stop-color="#6bcd69"/><stop offset="0.71" stop-color="#abc739"/><stop offset="0.79" stop-color="#e1bc2b"/><stop offset="0.86" stop-color="#fec338"/><stop offset="0.93" stop-color="#f6df29"/><stop offset="1" stop-color="#f9fb15"/></linearGradient>
<linearGradient id="br21" gradientUnits="userSpaceOnUse" x1="902.18" y1="383.6" x2="827.77" y2="283.77"><stop offset="0" stop-color="#3e26a8"/><stop offset="0.07" stop-color="#4639da"/><stop offset="0.14" stop-color="#4852f4"/><stop offset="0.21" stop-color="#406cfe"/><stop offset="0.29" stop-color="#2e87f7"/><stop offset="0.36" stop-color="#249ee6"/><stop offset="0.43" stop-color="#12b1d6"/><stop offset="0.5" stop-color="#12beb9"/><stop offset="0.57" stop-color="#37c897"/><stop offset="0.64" stop-color="#6bcd69"/><stop offset="0.71" stop-color="#abc739"/><stop offset="0.79" stop-color="#e1bc2b"/><stop offset="0.86" stop-color="#fec338"/><stop offset="0.93" stop-color="#f6df29"/><stop offset="1" stop-color="#f9fb15"/></linearGradient>
<linearGradient id="bf31" gradientUnits="userSpaceOnUse" x1="911.83" y1="387.38" x2="964.52" y2="252.69"><stop offset="0" stop-color="#3e26a8"/><stop offset="0.07" stop-color="#4639da"/><stop offset="0.14" stop-color="#4852f4"/><stop offset="0.21" stop-color="#406cfe"/><stop offset="0.29" stop-color="#2e87f7"/><stop offset="0.36" stop-color="#249ee6"/><stop offset="0.43" stop-color="#12b1d6"/><stop offset="0.5" stop-color="#12beb9"/><stop offset="0.57" stop-color="#37c897"/><stop offset="0.64" stop-color="#6bcd69"/><stop offset="0.71" stop-color="#abc739"/><stop offset="0.79" stop-color="#e1bc2b"/><stop offset="0.86" stop-color="#fec338"/><stop offset="0.93" stop-color="#f6df29"/><stop offset="1" stop-color="#f9fb15"/></linearGradient>
<linearGradient id="br31" gradientUnits="userSpaceOnUse" x1="950.43" y1="402.47" x2="876.02" y2="302.64"><stop offset="0" stop-color="#3e26a8"/><stop offset="0.07" stop-color="#4639da"/><stop offset="0.14" stop-color="#4852f4"/><stop offset="0.21" stop-color="#406cfe"/><stop offset="0.29" stop-color="#2e87f7"/><stop offset="0.36" stop-color="#249ee6"/><stop offset="0.43" stop-color="#12b1d6"/><stop offset="0.5" stop-color="#12beb9"/><stop offset="0.57" stop-color="#37c897"/><stop offset="0.64" stop-color="#6bcd69"/><stop offset="0.71" stop-color="#abc739"/><stop offset="0.79" stop-color="#e1bc2b"/><stop offset="0.86" stop-color="#fec338"/><stop offset="0.93" stop-color="#f6df29"/><stop offset="1" stop-color="#f9fb15"/></linearGradient>
<linearGradient id="bf41" gradientUnits="userSpaceOnUse" x1="960.08" y1="406.25" x2="1012.77" y2="271.56"><stop offset="0" stop-color="#3e26a8"/><stop offset="0.07" stop-color="#4639da"/><stop offset="0.14" stop-color="#4852f4"/><stop offset="0.21" stop-color="#406cfe"/><stop offset="0.29" stop-color="#2e87f7"/><stop offset="0.36" stop-color="#249ee6"/><stop offset="0.43" stop-color="#12b1d6"/><stop offset="0.5" stop-color="#12beb9"/><stop offset="0.57" stop-color="#37c897"/><stop offset="0.64" stop-color="#6bcd69"/><stop offset="0.71" stop-color="#abc739"/><stop offset="0.79" stop-color="#e1bc2b"/><stop offset="0.86" stop-color="#fec338"/><stop offset="0.93" stop-color="#f6df29"/><stop offset="1" stop-color="#f9fb15"/></linearGradient>
<linearGradient id="br41" gradientUnits="userSpaceOnUse" x1="998.68" y1="421.35" x2="924.27" y2="321.52"><stop offset="0" stop-color="#3e26a8"/><stop offset="0.07" stop-color="#4639da"/><stop offset="0.14" stop-color="#4852f4"/><stop offset="0.21" stop-color="#406cfe"/><stop offset="0.29" stop-color="#2e87f7"/><stop offset="0.36" stop-color="#249ee6"/><stop offset="0.43" stop-color="#12b1d6"/><stop offset="0.5" stop-color="#12beb9"/><stop offset="0.57" stop-color="#37c897"/><stop offset="0.64" stop-color="#6bcd69"/><stop offset="0.71" stop-color="#abc739"/><stop offset="0.79" stop-color="#e1bc2b"/><stop offset="0.86" stop-color="#fec338"/><stop offset="0.93" stop-color="#f6df29"/><stop offset="1" stop-color="#f9fb15"/></linearGradient>
<linearGradient id="bf51" gradientUnits="userSpaceOnUse" x1="1008.33" y1="425.12" x2="1061.02" y2="290.44"><stop offset="0" stop-color="#3e26a8"/><stop offset="0.07" stop-color="#4639da"/><stop offset="0.14" stop-color="#4852f4"/><stop offset="0.21" stop-color="#406cfe"/><stop offset="0.29" stop-color="#2e87f7"/><stop offset="0.36" stop-color="#249ee6"/><stop offset="0.43" stop-color="#12b1d6"/><stop offset="0.5" stop-color="#12beb9"/><stop offset="0.57" stop-color="#37c897"/><stop offset="0.64" stop-color="#6bcd69"/><stop offset="0.71" stop-color="#abc739"/><stop offset="0.79" stop-color="#e1bc2b"/><stop offset="0.86" stop-color="#fec338"/><stop offset="0.93" stop-color="#f6df29"/><stop offset="1" stop-color="#f9fb15"/></linearGradient>
<linearGradient id="br51" gradientUnits="userSpaceOnUse" x1="1046.93" y1="440.23" x2="972.52" y2="340.39"><stop offset="0" stop-color="#3e26a8"/><stop offset="0.07" stop-color="#4639da"/><stop offset="0.14" stop-color="#4852f4"/><stop offset="0.21" stop-color="#406cfe"/><stop offset="0.29" stop-color="#2e87f7"/><stop offset="0.36" stop-color="#249ee6"/><stop offset="0.43" stop-color="#12b1d6"/><stop offset="0.5" stop-color="#12beb9"/><stop offset="0.57" stop-color="#37c897"/><stop offset="0.64" stop-color="#6bcd69"/><stop offset="0.71" stop-color="#abc739"/><stop offset="0.79" stop-color="#e1bc2b"/><stop offset="0.86" stop-color="#fec338"/><stop offset="0.93" stop-color="#f6df29"/><stop offset="1" stop-color="#f9fb15"/></linearGradient>
<linearGradient id="cba" x1="0" y1="1" x2="0" y2="0"><stop offset="0" stop-color="#000000"/><stop offset="0.12" stop-color="#550000"/><stop offset="0.25" stop-color="#aa0000"/><stop offset="0.38" stop-color="#ff0000"/><stop offset="0.5" stop-color="#ff5500"/><stop offset="0.62" stop-color="#ffaa00"/><stop offset="0.75" stop-color="#ffff00"/><stop offset="0.88" stop-color="#ffff80"/><stop offset="1" stop-color="#ffffff"/></linearGradient>
<linearGradient id="cbb" x1="0" y1="1" x2="0" y2="0"><stop offset="0" stop-color="#3e26a8"/><stop offset="0.05" stop-color="#4433cc"/><stop offset="0.1" stop-color="#4743e7"/><stop offset="0.15" stop-color="#4755f6"/><stop offset="0.2" stop-color="#4367fd"/><stop offset="0.25" stop-color="#347afd"/><stop offset="0.3" stop-color="#2d8cf3"/><stop offset="0.35" stop-color="#259ce7"/><stop offset="0.4" stop-color="#1caadf"/><stop offset="0.45" stop-color="#05b6ce"/><stop offset="0.5" stop-color="#12beb9"/><stop offset="0.55" stop-color="#2fc5a2"/><stop offset="0.6" stop-color="#48cb86"/><stop offset="0.65" stop-color="#71cd64"/><stop offset="0.7" stop-color="#9fc942"/><stop offset="0.75" stop-color="#c8c129"/><stop offset="0.8" stop-color="#eaba31"/><stop offset="0.85" stop-color="#fec13a"/><stop offset="0.9" stop-color="#fad42e"/><stop offset="0.95" stop-color="#f5e825"/><stop offset="1" stop-color="#f9fb15"/></linearGradient>
</defs>
<line class="g" x1="94.9" y1="368.9" x2="270.1" y2="258.98"/>
<line class="g" x1="270.1" y1="258.98" x2="585.82" y2="355.46"/>
<line class="g" x1="94.9" y1="298.17" x2="270.1" y2="188.25"/>
<line class="g" x1="270.1" y1="188.25" x2="585.82" y2="284.73"/>
<line class="g" x1="94.9" y1="227.43" x2="270.1" y2="117.51"/>
<line class="g" x1="270.1" y1="117.51" x2="585.82" y2="213.99"/>
<line class="g" x1="94.9" y1="156.7" x2="270.1" y2="46.78"/>
<line class="g" x1="270.1" y1="46.78" x2="585.82" y2="143.26"/>
<line class="g" x1="109.5" y1="359.74" x2="109.5" y2="147.54"/>
<line class="g" x1="322.72" y1="275.06" x2="322.72" y2="62.86"/>
<line class="g" x1="109.5" y1="359.74" x2="425.22" y2="456.22"/>
<line class="g" x1="147.52" y1="384.98" x2="322.72" y2="275.06"/>
<line class="g" x1="146" y1="336.84" x2="146" y2="124.64"/>
<line class="g" x1="375.34" y1="291.14" x2="375.34" y2="78.94"/>
<line class="g" x1="146" y1="336.84" x2="461.72" y2="433.32"/>
<line class="g" x1="200.14" y1="401.06" x2="375.34" y2="291.14"/>
<line class="g" x1="182.5" y1="313.94" x2="182.5" y2="101.74"/>
<line class="g" x1="427.96" y1="307.22" x2="427.96" y2="95.02"/>
<line class="g" x1="182.5" y1="313.94" x2="498.22" y2="410.42"/>
<line class="g" x1="252.76" y1="417.14" x2="427.96" y2="307.22"/>
<line class="g" x1="219" y1="291.04" x2="219" y2="78.84"/>
<line class="g" x1="480.58" y1="323.3" x2="480.58" y2="111.1"/>
<line class="g" x1="219" y1="291.04" x2="534.72" y2="387.52"/>
<line class="g" x1="305.38" y1="433.22" x2="480.58" y2="323.3"/>
<line class="g" x1="255.5" y1="268.14" x2="255.5" y2="55.94"/>
<line class="g" x1="533.2" y1="339.38" x2="533.2" y2="127.18"/>
<line class="g" x1="255.5" y1="268.14" x2="571.22" y2="364.62"/>
<line class="g" x1="358" y1="449.3" x2="533.2" y2="339.38"/>
<polygon class="b" fill="url(#af15)" points="272.47,286.95 314.57,299.81 314.57,194.12 272.47,181.26"/>
<polygon class="b" fill="url(#ar15)" points="314.57,299.81 343.77,281.49 343.77,175.8 314.57,194.12"/>
<polygon class="b" fill="#ff5400" points="272.47,181.26 314.57,194.12 343.77,175.8 301.67,162.94"/>
<polygon class="b" fill="url(#af25)" points="325.09,303.03 367.19,315.89 367.19,169.85 325.09,156.99"/>
<polygon class="b" fill="url(#ar25)" points="367.19,315.89 396.39,297.57 396.39,151.53 367.19,169.85"/>
<polygon class="b" fill="#ffd500" points="325.09,156.99 367.19,169.85 396.39,151.53 354.29,138.67"/>
<polygon class="b" fill="url(#af35)" points="377.71,319.11 419.81,331.97 419.81,178.38 377.71,165.52"/>
<polygon class="b" fill="url(#ar35)" points="419.81,331.97 449.01,313.65 449.01,160.06 419.81,178.38"/>
<polygon class="b" fill="#ffed00" points="377.71,165.52 419.81,178.38 449.01,160.06 406.91,147.2"/>
<polygon class="b" fill="url(#af45)" points="430.33,335.19 472.43,348.05 472.43,185.91 430.33,173.05"/>
<polygon class="b" fill="url(#ar45)" points="472.43,348.05 501.63,329.73 501.63,167.59 472.43,185.91"/>
<polygon class="b" fill="#ffff0e" points="430.33,173.05 472.43,185.91 501.63,167.59 459.53,154.73"/>
<polygon class="b" fill="url(#af55)" points="482.95,351.27 525.05,364.13 525.05,176.84 482.95,163.98"/>
<polygon class="b" fill="url(#ar55)" points="525.05,364.13 554.25,345.81 554.25,158.52 525.05,176.84"/>
<polygon class="b" fill="#ffff87" points="482.95,163.98 525.05,176.84 554.25,158.52 512.15,145.66"/>
<polygon class="b" fill="url(#af14)" points="235.97,309.85 278.07,322.71 278.07,221.42 235.97,208.56"/>
<polygon class="b" fill="url(#ar14)" points="278.07,322.71 307.27,304.39 307.27,203.1 278.07,221.42"/>
<polygon class="b" fill="#ff4600" points="235.97,208.56 278.07,221.42 307.27,203.1 265.17,190.24"/>
<polygon class="b" fill="url(#af24)" points="288.59,325.93 330.69,338.79 330.69,208.1 288.59,195.24"/>
<polygon class="b" fill="url(#ar24)" points="330.69,338.79 359.89,320.47 359.89,189.78 330.69,208.1"/>
<polygon class="b" fill="#ffa400" points="288.59,195.24 330.69,208.1 359.89,189.78 317.79,176.92"/>
<polygon class="b" fill="url(#af34)" points="341.21,342.01 383.31,354.87 383.31,213.78 341.21,200.92"/>
<polygon class="b" fill="url(#ar34)" points="383.31,354.87 412.51,336.55 412.51,195.46 383.31,213.78"/>
<polygon class="b" fill="#ffc500" points="341.21,200.92 383.31,213.78 412.51,195.46 370.41,182.6"/>
<polygon class="b" fill="url(#af44)" points="393.83,358.09 435.93,370.95 435.93,219.11 393.83,206.25"/>
<polygon class="b" fill="url(#ar44)" points="435.93,370.95 465.13,352.63 465.13,200.79 435.93,219.11"/>
<polygon class="b" fill="#ffe800" points="393.83,206.25 435.93,219.11 465.13,200.79 423.03,187.93"/>
<polygon class="b" fill="url(#af54)" points="446.45,374.17 488.55,387.03 488.55,216.34 446.45,203.48"/>
<polygon class="b" fill="url(#ar54)" points="488.55,387.03 517.75,368.71 517.75,198.02 488.55,216.34"/>
<polygon class="b" fill="#ffff37" points="446.45,203.48 488.55,216.34 517.75,198.02 475.65,185.16"/>
<polygon class="b" fill="url(#af13)" points="199.47,332.75 241.57,345.61 241.57,252.12 199.47,239.26"/>
<polygon class="b" fill="url(#ar13)" points="241.57,345.61 270.77,327.29 270.77,233.8 241.57,252.12"/>
<polygon class="b" fill="#ff2d00" points="199.47,239.26 241.57,252.12 270.77,233.8 228.67,220.94"/>
<polygon class="b" fill="url(#af23)" points="252.09,348.83 294.19,361.69 294.19,250.45 252.09,237.59"/>
<polygon class="b" fill="url(#ar23)" points="294.19,361.69 323.39,343.37 323.39,232.13 294.19,250.45"/>
<polygon class="b" fill="#ff6500" points="252.09,237.59 294.19,250.45 323.39,232.13 281.29,219.27"/>
<polygon class="b" fill="url(#af33)" points="304.71,364.91 346.81,377.77 346.81,251.08 304.71,238.22"/>
<polygon class="b" fill="url(#ar33)" points="346.81,377.77 376.01,359.45 376.01,232.76 346.81,251.08"/>
<polygon class="b" fill="#ff9700" points="304.71,238.22 346.81,251.08 376.01,232.76 333.91,219.9"/>
<polygon class="b" fill="url(#af43)" points="357.33,380.99 399.43,393.85 399.43,254.31 357.33,241.45"/>
<polygon class="b" fill="url(#ar43)" points="399.43,393.85 428.63,375.53 428.63,235.99 399.43,254.31"/>
<polygon class="b" fill="#ffc000" points="357.33,241.45 399.43,254.31 428.63,235.99 386.53,223.13"/>
<polygon class="b" fill="url(#af53)" points="409.95,397.07 452.05,409.93 452.05,259.64 409.95,246.78"/>
<polygon class="b" fill="url(#ar53)" points="452.05,409.93 481.25,391.61 481.25,241.32 452.05,259.64"/>
<polygon class="b" fill="#ffe300" points="409.95,246.78 452.05,259.64 481.25,241.32 439.15,228.46"/>
<polygon class="b" fill="url(#af12)" points="162.97,355.65 205.07,368.51 205.07,302.22 162.97,289.36"/>
<polygon class="b" fill="url(#ar12)" points="205.07,368.51 234.27,350.19 234.27,283.9 205.07,302.22"/>
<polygon class="b" fill="#d40000" points="162.97,289.36 205.07,302.22 234.27,283.9 192.17,271.04"/>
<polygon class="b" fill="url(#af22)" points="215.59,371.73 257.69,384.59 257.69,296.5 215.59,283.64"/>
<polygon class="b" fill="url(#ar22)" points="257.69,384.59 286.89,366.27 286.89,278.18 257.69,296.5"/>
<polygon class="b" fill="#ff1b00" points="215.59,283.64 257.69,296.5 286.89,278.18 244.79,265.32"/>
<polygon class="b" fill="url(#af32)" points="268.21,387.81 310.31,400.67 310.31,295.98 268.21,283.12"/>
<polygon class="b" fill="url(#ar32)" points="310.31,400.67 339.51,382.35 339.51,277.66 310.31,295.98"/>
<polygon class="b" fill="#ff5000" points="268.21,283.12 310.31,295.98 339.51,277.66 297.41,264.8"/>
<polygon class="b" fill="url(#af42)" points="320.83,403.89 362.93,416.75 362.93,297.91 320.83,285.05"/>
<polygon class="b" fill="url(#ar42)" points="362.93,416.75 392.13,398.43 392.13,279.59 362.93,297.91"/>
<polygon class="b" fill="#ff7e00" points="320.83,285.05 362.93,297.91 392.13,279.59 350.03,266.73"/>
<polygon class="b" fill="url(#af52)" points="373.45,419.97 415.55,432.83 415.55,301.34 373.45,288.48"/>
<polygon class="b" fill="url(#ar52)" points="415.55,432.83 444.75,414.51 444.75,283.02 415.55,301.34"/>
<polygon class="b" fill="#ffa600" points="373.45,288.48 415.55,301.34 444.75,283.02 402.65,270.16"/>
<polygon class="b" fill="url(#af11)" points="126.47,378.55 168.57,391.41 168.57,341.82 126.47,328.96"/>
<polygon class="b" fill="url(#ar11)" points="168.57,391.41 197.77,373.09 197.77,323.5 168.57,341.82"/>
<polygon class="b" fill="#9f0000" points="126.47,328.96 168.57,341.82 197.77,323.5 155.67,310.64"/>
<polygon class="b" fill="url(#af21)" points="179.09,394.63 221.19,407.49 221.19,340 179.09,327.14"/>
<polygon class="b" fill="url(#ar21)" points="221.19,407.49 250.39,389.17 250.39,321.68 221.19,340"/>
<polygon class="b" fill="#d80000" points="179.09,327.14 221.19,340 250.39,321.68 208.29,308.82"/>
<polygon class="b" fill="url(#af31)" points="231.71,410.71 273.81,423.57 273.81,341.58 231.71,328.72"/>
<polygon class="b" fill="url(#ar31)" points="273.81,423.57 303.01,405.25 303.01,323.26 273.81,341.58"/>
<polygon class="b" fill="#ff0800" points="231.71,328.72 273.81,341.58 303.01,323.26 260.91,310.4"/>
<polygon class="b" fill="url(#af41)" points="284.33,426.79 326.43,439.65 326.43,343.71 284.33,330.85"/>
<polygon class="b" fill="url(#ar41)" points="326.43,439.65 355.63,421.33 355.63,325.39 326.43,343.71"/>
<polygon class="b" fill="#ff3400" points="284.33,330.85 326.43,343.71 355.63,325.39 313.53,312.53"/>
<polygon class="b" fill="url(#af51)" points="336.95,442.87 379.05,455.73 379.05,345.94 336.95,333.08"/>
<polygon class="b" fill="url(#ar51)" points="379.05,455.73 408.25,437.41 408.25,327.62 379.05,345.94"/>
<polygon class="b" fill="#ff6100" points="336.95,333.08 379.05,345.94 408.25,327.62 366.15,314.76"/>
<line class="a" x1="94.9" y1="368.9" x2="94.9" y2="156.7"/>
<line class="a" x1="94.9" y1="368.9" x2="410.62" y2="465.38"/>
<line class="a" x1="410.62" y1="465.38" x2="585.82" y2="355.46"/>
<line class="a" x1="94.9" y1="368.9" x2="86.68" y2="366.39"/>
<text x="80.5" y="373.25" font-size="20" text-anchor="end">1.7</text>
<line class="a" x1="94.9" y1="298.17" x2="86.68" y2="295.66"/>
<text x="80.5" y="302.52" font-size="20" text-anchor="end">1.75</text>
<line class="a" x1="94.9" y1="227.43" x2="86.68" y2="224.92"/>
<text x="80.5" y="231.78" font-size="20" text-anchor="end">1.8</text>
<line class="a" x1="94.9" y1="156.7" x2="86.68" y2="154.19"/>
<text x="80.5" y="161.05" font-size="20" text-anchor="end">1.85</text>
<line class="a" x1="147.52" y1="384.98" x2="140.24" y2="389.55"/>
<text x="134.92" y="414.64" font-size="20" text-anchor="end">0</text>
<line class="a" x1="200.14" y1="401.06" x2="192.86" y2="405.63"/>
<text x="187.54" y="430.72" font-size="20" text-anchor="end">5</text>
<line class="a" x1="252.76" y1="417.14" x2="245.48" y2="421.71"/>
<text x="240.16" y="446.8" font-size="20" text-anchor="end">10</text>
<line class="a" x1="305.38" y1="433.22" x2="298.1" y2="437.79"/>
<text x="292.78" y="462.88" font-size="20" text-anchor="end">15</text>
<line class="a" x1="358" y1="449.3" x2="350.72" y2="453.87"/>
<text x="345.4" y="478.96" font-size="20" text-anchor="end">20</text>
<line class="a" x1="425.22" y1="456.22" x2="433.44" y2="458.73"/>
<text x="439.42" y="481.18" font-size="20" text-anchor="start">0</text>
<line class="a" x1="461.72" y1="433.32" x2="469.94" y2="435.83"/>
<text x="475.92" y="458.28" font-size="20" text-anchor="start">2.5</text>
<line class="a" x1="498.22" y1="410.42" x2="506.44" y2="412.93"/>
<text x="512.42" y="435.38" font-size="20" text-anchor="start">5</text>
<line class="a" x1="534.72" y1="387.52" x2="542.94" y2="390.03"/>
<text x="548.92" y="412.48" font-size="20" text-anchor="start">7.5</text>
<line class="a" x1="571.22" y1="364.62" x2="579.44" y2="367.13"/>
<text x="585.42" y="389.58" font-size="20" text-anchor="start">10</text>
<line class="g" x1="794.3" y1="365.3" x2="1004.6" y2="208.55"/>
<line class="g" x1="1004.6" y1="208.55" x2="1236.2" y2="299.15"/>
<line class="g" x1="794.3" y1="303.17" x2="1004.6" y2="146.42"/>
<line class="g" x1="1004.6" y1="146.42" x2="1236.2" y2="237.02"/>
<line class="g" x1="794.3" y1="241.03" x2="1004.6" y2="84.28"/>
<line class="g" x1="1004.6" y1="84.28" x2="1236.2" y2="174.88"/>
<line class="g" x1="794.3" y1="178.9" x2="1004.6" y2="22.15"/>
<line class="g" x1="1004.6" y1="22.15" x2="1236.2" y2="112.75"/>
<line class="g" x1="829.35" y1="339.18" x2="829.35" y2="152.78"/>
<line class="g" x1="1023.9" y1="216.1" x2="1023.9" y2="29.7"/>
<line class="g" x1="829.35" y1="339.18" x2="1060.95" y2="429.78"/>
<line class="g" x1="813.6" y1="372.85" x2="1023.9" y2="216.1"/>
<line class="g" x1="864.4" y1="313.05" x2="864.4" y2="126.65"/>
<line class="g" x1="1072.15" y1="234.98" x2="1072.15" y2="48.58"/>
<line class="g" x1="864.4" y1="313.05" x2="1096" y2="403.65"/>
<line class="g" x1="861.85" y1="391.73" x2="1072.15" y2="234.98"/>
<line class="g" x1="899.45" y1="286.93" x2="899.45" y2="100.53"/>
<line class="g" x1="1120.4" y1="253.85" x2="1120.4" y2="67.45"/>
<line class="g" x1="899.45" y1="286.93" x2="1131.05" y2="377.53"/>
<line class="g" x1="910.1" y1="410.6" x2="1120.4" y2="253.85"/>
<line class="g" x1="934.5" y1="260.8" x2="934.5" y2="74.4"/>
<line class="g" x1="1168.65" y1="272.73" x2="1168.65" y2="86.33"/>
<line class="g" x1="934.5" y1="260.8" x2="1166.1" y2="351.4"/>
<line class="g" x1="958.35" y1="429.48" x2="1168.65" y2="272.73"/>
<line class="g" x1="969.55" y1="234.68" x2="969.55" y2="48.28"/>
<line class="g" x1="1216.9" y1="291.6" x2="1216.9" y2="105.2"/>
<line class="g" x1="969.55" y1="234.68" x2="1201.15" y2="325.28"/>
<line class="g" x1="1006.6" y1="448.35" x2="1216.9" y2="291.6"/>
<polygon class="b" fill="url(#bf15)" points="955.53,245.12 994.13,260.23 994.13,105.23 955.53,90.13"/>
<polygon class="b" fill="url(#br15)" points="994.13,260.23 1022.17,239.33 1022.17,84.33 994.13,105.23"/>
<polygon class="b" fill="#f9fa15" points="955.53,90.13 994.13,105.23 1022.17,84.33 983.57,69.23"/>
<polygon class="b" fill="url(#bf25)" points="1003.78,264 1042.38,279.1 1042.38,154.87 1003.78,139.77"/>
<polygon class="b" fill="url(#br25)" points="1042.38,279.1 1070.42,258.2 1070.42,133.97 1042.38,154.87"/>
<polygon class="b" fill="#eaba31" points="1003.78,139.77 1042.38,154.87 1070.42,133.97 1031.82,118.87"/>
<polygon class="b" fill="url(#bf35)" points="1052.03,282.88 1090.63,297.97 1090.63,161.41 1052.03,146.31"/>
<polygon class="b" fill="url(#br35)" points="1090.63,297.97 1118.67,277.07 1118.67,140.51 1090.63,161.41"/>
<polygon class="b" fill="#fdcc32" points="1052.03,146.31 1090.63,161.41 1118.67,140.51 1080.07,125.41"/>
<polygon class="b" fill="url(#bf45)" points="1100.28,301.75 1138.88,316.85 1138.88,249.75 1100.28,234.65"/>
<polygon class="b" fill="url(#br45)" points="1138.88,316.85 1166.92,295.95 1166.92,228.85 1138.88,249.75"/>
<polygon class="b" fill="#0fb2d5" points="1100.28,234.65 1138.88,249.75 1166.92,228.85 1128.32,213.75"/>
<polygon class="b" fill="url(#bf55)" points="1148.53,320.62 1187.13,335.73 1187.13,224.49 1148.53,209.39"/>
<polygon class="b" fill="url(#br55)" points="1187.13,335.73 1215.17,314.83 1215.17,203.59 1187.13,224.49"/>
<polygon class="b" fill="#adc638" points="1148.53,209.39 1187.13,224.49 1215.17,203.59 1176.57,188.49"/>
<polygon class="b" fill="url(#bf14)" points="920.48,271.25 959.08,286.35 959.08,161.83 920.48,146.73"/>
<polygon class="b" fill="url(#br14)" points="959.08,286.35 987.12,265.45 987.12,140.93 959.08,161.83"/>
<polygon class="b" fill="#ebba32" points="920.48,146.73 959.08,161.83 987.12,140.93 948.52,125.83"/>
<polygon class="b" fill="url(#bf24)" points="968.73,290.12 1007.33,305.22 1007.33,193.87 968.73,178.77"/>
<polygon class="b" fill="url(#br24)" points="1007.33,305.22 1035.37,284.32 1035.37,172.97 1007.33,193.87"/>
<polygon class="b" fill="#aec637" points="968.73,178.77 1007.33,193.87 1035.37,172.97 996.77,157.87"/>
<polygon class="b" fill="url(#bf34)" points="1016.98,309 1055.58,324.1 1055.58,261.61 1016.98,246.51"/>
<polygon class="b" fill="url(#br34)" points="1055.58,324.1 1083.62,303.2 1083.62,240.71 1055.58,261.61"/>
<polygon class="b" fill="#1babde" points="1016.98,246.51 1055.58,261.61 1083.62,240.71 1045.02,225.61"/>
<polygon class="b" fill="url(#bf44)" points="1065.23,327.88 1103.83,342.98 1103.83,287.75 1065.23,272.65"/>
<polygon class="b" fill="url(#br44)" points="1103.83,342.98 1131.87,322.08 1131.87,266.85 1103.83,287.75"/>
<polygon class="b" fill="#249de6" points="1065.23,272.65 1103.83,287.75 1131.87,266.85 1093.27,251.75"/>
<polygon class="b" fill="url(#bf54)" points="1113.48,346.75 1152.08,361.85 1152.08,262.69 1113.48,247.59"/>
<polygon class="b" fill="url(#br54)" points="1152.08,361.85 1180.12,340.95 1180.12,241.79 1152.08,262.69"/>
<polygon class="b" fill="#67cd6c" points="1113.48,247.59 1152.08,262.69 1180.12,241.79 1141.52,226.69"/>
<polygon class="b" fill="url(#bf13)" points="885.43,297.38 924.03,312.48 924.03,201.33 885.43,186.23"/>
<polygon class="b" fill="url(#br13)" points="924.03,312.48 952.07,291.58 952.07,180.43 924.03,201.33"/>
<polygon class="b" fill="#adc738" points="885.43,186.23 924.03,201.33 952.07,180.43 913.47,165.33"/>
<polygon class="b" fill="url(#bf23)" points="933.68,316.25 972.28,331.35 972.28,288.17 933.68,273.07"/>
<polygon class="b" fill="url(#br23)" points="972.28,331.35 1000.32,310.45 1000.32,267.27 972.28,288.17"/>
<polygon class="b" fill="#2e84f8" points="933.68,273.07 972.28,288.17 1000.32,267.27 961.72,252.17"/>
<polygon class="b" fill="url(#bf33)" points="981.93,335.12 1020.53,350.22 1020.53,336.91 981.93,321.81"/>
<polygon class="b" fill="url(#br33)" points="1020.53,350.22 1048.57,329.32 1048.57,316.01 1020.53,336.91"/>
<polygon class="b" fill="#463ee1" points="981.93,321.81 1020.53,336.91 1048.57,316.01 1009.97,300.91"/>
<polygon class="b" fill="url(#bf43)" points="1030.18,354 1068.78,369.1 1068.78,343.95 1030.18,328.85"/>
<polygon class="b" fill="url(#br43)" points="1068.78,369.1 1096.82,348.2 1096.82,323.05 1068.78,343.95"/>
<polygon class="b" fill="#4759f8" points="1030.18,328.85 1068.78,343.95 1096.82,323.05 1058.22,307.95"/>
<polygon class="b" fill="url(#bf53)" points="1078.43,372.88 1117.03,387.98 1117.03,338.99 1078.43,323.89"/>
<polygon class="b" fill="url(#br53)" points="1117.03,387.98 1145.07,367.08 1145.07,318.09 1117.03,338.99"/>
<polygon class="b" fill="#2b91ef" points="1078.43,323.89 1117.03,338.99 1145.07,318.09 1106.47,302.99"/>
<polygon class="b" fill="url(#bf12)" points="850.38,323.5 888.98,338.6 888.98,227.83 850.38,212.73"/>
<polygon class="b" fill="url(#br12)" points="888.98,338.6 917.02,317.7 917.02,206.93 888.98,227.83"/>
<polygon class="b" fill="#aac739" points="850.38,212.73 888.98,227.83 917.02,206.93 878.42,191.83"/>
<polygon class="b" fill="url(#bf22)" points="898.63,342.38 937.23,357.47 937.23,307.87 898.63,292.77"/>
<polygon class="b" fill="url(#br22)" points="937.23,357.47 965.27,336.57 965.27,286.97 937.23,307.87"/>
<polygon class="b" fill="#2b92ee" points="898.63,292.77 937.23,307.87 965.27,286.97 926.67,271.87"/>
<polygon class="b" fill="url(#bf32)" points="946.88,361.25 985.48,376.35 985.48,345.91 946.88,330.81"/>
<polygon class="b" fill="url(#br32)" points="985.48,376.35 1013.52,355.45 1013.52,325.01 985.48,345.91"/>
<polygon class="b" fill="#4465fd" points="946.88,330.81 985.48,345.91 1013.52,325.01 974.92,309.91"/>
<polygon class="b" fill="url(#bf42)" points="995.13,380.12 1033.73,395.23 1033.73,354.95 995.13,339.85"/>
<polygon class="b" fill="url(#br42)" points="1033.73,395.23 1061.77,374.33 1061.77,334.05 1033.73,354.95"/>
<polygon class="b" fill="#317efb" points="995.13,339.85 1033.73,354.95 1061.77,334.05 1023.17,318.95"/>
<polygon class="b" fill="url(#bf52)" points="1043.38,399 1081.98,414.1 1081.98,326.99 1043.38,311.89"/>
<polygon class="b" fill="url(#br52)" points="1081.98,414.1 1110.02,393.2 1110.02,306.09 1081.98,326.99"/>
<polygon class="b" fill="#33c79d" points="1043.38,311.89 1081.98,326.99 1110.02,306.09 1071.42,290.99"/>
<polygon class="b" fill="url(#bf11)" points="815.33,349.62 853.93,364.73 853.93,234.83 815.33,219.73"/>
<polygon class="b" fill="url(#br11)" points="853.93,364.73 881.97,343.83 881.97,213.93 853.93,234.83"/>
<polygon class="b" fill="#fcbd3d" points="815.33,219.73 853.93,234.83 881.97,213.93 843.37,198.83"/>
<polygon class="b" fill="url(#bf21)" points="863.58,368.5 902.18,383.6 902.18,271.87 863.58,256.77"/>
<polygon class="b" fill="url(#br21)" points="902.18,383.6 930.22,362.7 930.22,250.97 902.18,271.87"/>
<polygon class="b" fill="#b0c636" points="863.58,256.77 902.18,271.87 930.22,250.97 891.62,235.87"/>
<polygon class="b" fill="url(#bf31)" points="911.83,387.38 950.43,402.47 950.43,366.11 911.83,351.01"/>
<polygon class="b" fill="url(#br31)" points="950.43,402.47 978.47,381.57 978.47,345.21 950.43,366.11"/>
<polygon class="b" fill="#3a74fe" points="911.83,351.01 950.43,366.11 978.47,345.21 939.87,330.11"/>
<polygon class="b" fill="url(#bf41)" points="960.08,406.25 998.68,421.35 998.68,340.95 960.08,325.85"/>
<polygon class="b" fill="url(#br41)" points="998.68,421.35 1026.72,400.45 1026.72,320.05 998.68,340.95"/>
<polygon class="b" fill="#20c1b1" points="960.08,325.85 998.68,340.95 1026.72,320.05 988.12,304.95"/>
<polygon class="b" fill="url(#bf51)" points="1008.33,425.12 1046.93,440.23 1046.93,316.49 1008.33,301.39"/>
<polygon class="b" fill="url(#br51)" points="1046.93,440.23 1074.97,419.33 1074.97,295.59 1046.93,316.49"/>
<polygon class="b" fill="#e8bb2f" points="1008.33,301.39 1046.93,316.49 1074.97,295.59 1036.37,280.49"/>
<line class="a" x1="794.3" y1="365.3" x2="794.3" y2="178.9"/>
<line class="a" x1="794.3" y1="365.3" x2="1025.9" y2="455.9"/>
<line class="a" x1="1025.9" y1="455.9" x2="1236.2" y2="299.15"/>
<line class="a" x1="794.3" y1="365.3" x2="786.29" y2="362.17"/>
<text x="781" y="369.45" font-size="19.5" text-anchor="end">0</text>
<line class="a" x1="794.3" y1="303.17" x2="786.29" y2="300.04"/>
<text x="781" y="307.32" font-size="19.5" text-anchor="end">10</text>
<line class="a" x1="794.3" y1="241.03" x2="786.29" y2="237.9"/>
<text x="781" y="245.18" font-size="19.5" text-anchor="end">20</text>
<line class="a" x1="794.3" y1="178.9" x2="786.29" y2="175.77"/>
<text x="781" y="183.05" font-size="19.5" text-anchor="end">30</text>
<line class="a" x1="813.6" y1="372.85" x2="806.7" y2="377.99"/>
<text x="802" y="400.93" font-size="19.5" text-anchor="end">10</text>
<line class="a" x1="861.85" y1="391.73" x2="854.95" y2="396.86"/>
<text x="850.25" y="419.81" font-size="19.5" text-anchor="end">7.5</text>
<line class="a" x1="910.1" y1="410.6" x2="903.2" y2="415.74"/>
<text x="898.5" y="438.68" font-size="19.5" text-anchor="end">5</text>
<line class="a" x1="958.35" y1="429.48" x2="951.45" y2="434.61"/>
<text x="946.75" y="457.56" font-size="19.5" text-anchor="end">2.5</text>
<line class="a" x1="1006.6" y1="448.35" x2="999.7" y2="453.49"/>
<text x="995" y="476.43" font-size="19.5" text-anchor="end">0</text>
<line class="a" x1="1060.95" y1="429.78" x2="1068.96" y2="432.91"/>
<text x="1073.55" y="454.36" font-size="19.5" text-anchor="start">0</text>
<line class="a" x1="1096" y1="403.65" x2="1104.01" y2="406.78"/>
<text x="1108.6" y="428.23" font-size="19.5" text-anchor="start">5</text>
<line class="a" x1="1131.05" y1="377.53" x2="1139.06" y2="380.66"/>
<text x="1143.65" y="402.11" font-size="19.5" text-anchor="start">10</text>
<line class="a" x1="1166.1" y1="351.4" x2="1174.11" y2="354.53"/>
<text x="1178.7" y="375.98" font-size="19.5" text-anchor="start">15</text>
<line class="a" x1="1201.15" y1="325.28" x2="1209.16" y2="328.41"/>
<text x="1213.75" y="349.86" font-size="19.5" text-anchor="start">20</text>
<rect x="624.3" y="105.7" width="17.4" height="351.1" fill="url(#cba)" stroke="#6a6a6a" stroke-width="1"/>
<line class="ct" x1="638.1" y1="105.7" x2="641.7" y2="105.7"/>
<text x="650" y="112.89" font-size="17.3">1.85</text>
<line class="ct" x1="638.1" y1="222.73" x2="641.7" y2="222.73"/>
<text x="650" y="229.92" font-size="17.3">1.8</text>
<line class="ct" x1="638.1" y1="339.76" x2="641.7" y2="339.76"/>
<text x="650" y="346.95" font-size="17.3">1.75</text>
<line class="ct" x1="638.1" y1="456.79" x2="641.7" y2="456.79"/>
<text x="650" y="463.98" font-size="17.3">1.7</text>
<rect x="1264.2" y="111.6" width="16.4" height="288.6" fill="url(#cbb)" stroke="#6a6a6a" stroke-width="1"/>
<line class="ct" x1="1277" y1="400.2" x2="1280.6" y2="400.2"/>
<text x="1286.5" y="407.39" font-size="17.3">0</text>
<line class="ct" x1="1277" y1="342.48" x2="1280.6" y2="342.48"/>
<text x="1286.5" y="349.67" font-size="17.3">5</text>
<line class="ct" x1="1277" y1="284.76" x2="1280.6" y2="284.76"/>
<text x="1286.5" y="291.95" font-size="17.3">10</text>
<line class="ct" x1="1277" y1="227.04" x2="1280.6" y2="227.04"/>
<text x="1286.5" y="234.23" font-size="17.3">15</text>
<line class="ct" x1="1277" y1="169.32" x2="1280.6" y2="169.32"/>
<text x="1286.5" y="176.51" font-size="17.3">20</text>
<line class="ct" x1="1277" y1="111.6" x2="1280.6" y2="111.6"/>
<text x="1286.5" y="118.79" font-size="17.3">25</text>
<text x="40.7" y="66.8" font-size="31" letter-spacing="0.85" fill="#000" stroke="#000">(a)</text>
<text x="732.8" y="66.6" font-size="31" letter-spacing="0.85" fill="#000" stroke="#000">(b)</text>
<text x="612" y="88" font-size="20.3" fill="#000" stroke="#000">E<tspan font-size="15" dy="4.5">g</tspan><tspan dy="-4.5"> (eV)</tspan></text>
<text transform="translate(30.4,262.7) rotate(-90)" font-size="22" text-anchor="middle">Bandgap (eV)</text>
<text transform="translate(748.8,271.8) rotate(-90)" font-size="21.1" text-anchor="middle">Spectral center shift (nm)</text>
<text transform="translate(210.5,480.2) rotate(15.1)" font-size="22" text-anchor="middle">DMA (mol%)</text>
<text transform="translate(532.5,476.5) rotate(-32.1)" font-size="22" text-anchor="middle">MAPbCl<tspan font-size="17.5" dy="7.5">3</tspan><tspan dy="-7.5">(mol%)</tspan></text>
<text transform="translate(857,471) rotate(19.8)" font-size="21.1" text-anchor="middle">MAPbCl<tspan font-size="17.5" dy="7.5">3</tspan><tspan dy="-7.5"> (mol%)</tspan></text>
<text transform="translate(1184.4,432.1) rotate(-32.5)" font-size="21.5" text-anchor="middle">DMA (mol%)</text>
</svg>
</body></html>
